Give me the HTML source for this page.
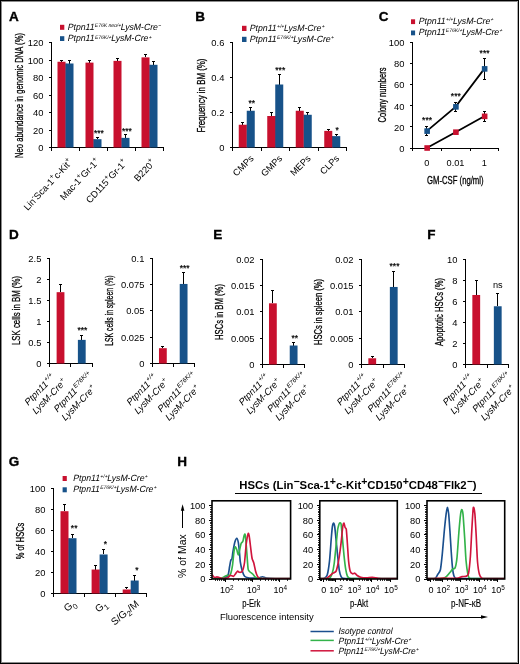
<!DOCTYPE html>
<html><head><meta charset="utf-8"><style>
html,body{margin:0;padding:0;background:#fff;}
svg{display:block;font-family:"Liberation Sans", sans-serif;will-change:transform;}
</style></head><body>
<svg width="520" height="664" viewBox="0 0 520 664">
<rect x="0" y="0" width="520" height="664" fill="#fff"/>
<text x="9.00" y="20.90" font-size="13.5" font-weight="bold" stroke="#000" stroke-width="0.35">A</text>
<rect x="60.00" y="24.80" width="4.30" height="5.00" fill="#c8102e"/>
<rect x="60.00" y="36.20" width="4.30" height="4.80" fill="#175289"/>
<text x="67.30" y="29.70" font-size="9.0" text-anchor="start" transform="translate(67.30 29.70) rotate(0) skewX(-12) translate(-67.30 -29.70)" textLength="93.00" lengthAdjust="spacingAndGlyphs"><tspan dy="0.00" font-size="9.00">Ptpn11</tspan><tspan dy="-2.70" font-size="5.20">E76K neo/+</tspan><tspan dy="2.70" font-size="9.00">LysM-Cre</tspan><tspan dy="-2.70" font-size="5.20">−</tspan></text>
<text x="67.30" y="41.30" font-size="9.0" text-anchor="start" transform="translate(67.30 41.30) rotate(0) skewX(-12) translate(-67.30 -41.30)" textLength="83.50" lengthAdjust="spacingAndGlyphs"><tspan dy="0.00" font-size="9.00">Ptpn11</tspan><tspan dy="-2.70" font-size="5.20">E76K/+</tspan><tspan dy="2.70" font-size="9.00">LysM-Cre</tspan><tspan dy="-2.70" font-size="5.20">+</tspan></text>
<line x1="51.50" y1="42.50" x2="51.50" y2="147.50" stroke="#000" stroke-width="1" shape-rendering="crispEdges"/>
<line x1="48.50" y1="147.50" x2="51.50" y2="147.50" stroke="#000" stroke-width="1" shape-rendering="crispEdges"/>
<text x="43.40" y="151.20" font-size="9.4" text-anchor="end">0</text>
<line x1="48.50" y1="130.00" x2="51.50" y2="130.00" stroke="#000" stroke-width="1" shape-rendering="crispEdges"/>
<text x="43.40" y="133.70" font-size="9.4" text-anchor="end">20</text>
<line x1="48.50" y1="112.50" x2="51.50" y2="112.50" stroke="#000" stroke-width="1" shape-rendering="crispEdges"/>
<text x="43.40" y="116.20" font-size="9.4" text-anchor="end">40</text>
<line x1="48.50" y1="95.00" x2="51.50" y2="95.00" stroke="#000" stroke-width="1" shape-rendering="crispEdges"/>
<text x="43.40" y="98.70" font-size="9.4" text-anchor="end">60</text>
<line x1="48.50" y1="77.50" x2="51.50" y2="77.50" stroke="#000" stroke-width="1" shape-rendering="crispEdges"/>
<text x="43.40" y="81.20" font-size="9.4" text-anchor="end">80</text>
<line x1="48.50" y1="60.00" x2="51.50" y2="60.00" stroke="#000" stroke-width="1" shape-rendering="crispEdges"/>
<text x="43.40" y="63.70" font-size="9.4" text-anchor="end">100</text>
<line x1="48.50" y1="42.50" x2="51.50" y2="42.50" stroke="#000" stroke-width="1" shape-rendering="crispEdges"/>
<text x="43.40" y="46.20" font-size="9.4" text-anchor="end">120</text>
<line x1="51.00" y1="147.50" x2="164.00" y2="147.50" stroke="#000" stroke-width="1" shape-rendering="crispEdges"/>
<line x1="51.50" y1="147.50" x2="51.50" y2="150.50" stroke="#000" stroke-width="1" shape-rendering="crispEdges"/>
<line x1="79.50" y1="147.50" x2="79.50" y2="150.50" stroke="#000" stroke-width="1" shape-rendering="crispEdges"/>
<line x1="107.50" y1="147.50" x2="107.50" y2="150.50" stroke="#000" stroke-width="1" shape-rendering="crispEdges"/>
<line x1="135.50" y1="147.50" x2="135.50" y2="150.50" stroke="#000" stroke-width="1" shape-rendering="crispEdges"/>
<line x1="163.50" y1="147.50" x2="163.50" y2="150.50" stroke="#000" stroke-width="1" shape-rendering="crispEdges"/>
<line x1="61.50" y1="61.75" x2="61.50" y2="60.44" stroke="#000" stroke-width="1" shape-rendering="crispEdges"/>
<line x1="60.00" y1="60.44" x2="63.00" y2="60.44" stroke="#000" stroke-width="1" shape-rendering="crispEdges"/>
<line x1="69.50" y1="63.50" x2="69.50" y2="60.88" stroke="#000" stroke-width="1" shape-rendering="crispEdges"/>
<line x1="68.00" y1="60.88" x2="71.00" y2="60.88" stroke="#000" stroke-width="1" shape-rendering="crispEdges"/>
<rect x="57.50" y="61.75" width="8.00" height="85.75" fill="#c8102e"/>
<rect x="65.30" y="63.50" width="1.20" height="84.00" fill="#c8102e"/>
<rect x="65.50" y="63.50" width="8.00" height="84.00" fill="#175289"/>
<line x1="89.50" y1="62.62" x2="89.50" y2="60.17" stroke="#000" stroke-width="1" shape-rendering="crispEdges"/>
<line x1="88.00" y1="60.17" x2="91.00" y2="60.17" stroke="#000" stroke-width="1" shape-rendering="crispEdges"/>
<line x1="97.50" y1="139.19" x2="97.50" y2="137.44" stroke="#000" stroke-width="1" shape-rendering="crispEdges"/>
<line x1="96.00" y1="137.44" x2="99.00" y2="137.44" stroke="#000" stroke-width="1" shape-rendering="crispEdges"/>
<rect x="85.50" y="62.62" width="8.00" height="84.88" fill="#c8102e"/>
<rect x="93.30" y="139.19" width="1.20" height="8.31" fill="#c8102e"/>
<rect x="93.50" y="139.19" width="8.00" height="8.31" fill="#175289"/>
<line x1="117.50" y1="60.88" x2="117.50" y2="58.08" stroke="#000" stroke-width="1" shape-rendering="crispEdges"/>
<line x1="116.00" y1="58.08" x2="119.00" y2="58.08" stroke="#000" stroke-width="1" shape-rendering="crispEdges"/>
<line x1="125.50" y1="137.88" x2="125.50" y2="134.81" stroke="#000" stroke-width="1" shape-rendering="crispEdges"/>
<line x1="124.00" y1="134.81" x2="127.00" y2="134.81" stroke="#000" stroke-width="1" shape-rendering="crispEdges"/>
<rect x="113.50" y="60.88" width="8.00" height="86.62" fill="#c8102e"/>
<rect x="121.30" y="137.88" width="1.20" height="9.62" fill="#c8102e"/>
<rect x="121.50" y="137.88" width="8.00" height="9.62" fill="#175289"/>
<line x1="145.50" y1="57.38" x2="145.50" y2="54.49" stroke="#000" stroke-width="1" shape-rendering="crispEdges"/>
<line x1="144.00" y1="54.49" x2="147.00" y2="54.49" stroke="#000" stroke-width="1" shape-rendering="crispEdges"/>
<line x1="153.50" y1="64.81" x2="153.50" y2="61.14" stroke="#000" stroke-width="1" shape-rendering="crispEdges"/>
<line x1="152.00" y1="61.14" x2="155.00" y2="61.14" stroke="#000" stroke-width="1" shape-rendering="crispEdges"/>
<rect x="141.50" y="57.38" width="8.00" height="90.12" fill="#c8102e"/>
<rect x="149.30" y="64.81" width="1.20" height="82.69" fill="#c8102e"/>
<rect x="149.50" y="64.81" width="8.00" height="82.69" fill="#175289"/>
<text x="98.90" y="135.60" font-size="8.5" text-anchor="middle" stroke="#000" stroke-width="0.2">***</text>
<text x="126.90" y="134.10" font-size="8.5" text-anchor="middle" stroke="#000" stroke-width="0.2">***</text>
<text x="22.50" y="95.50" font-size="11.2" text-anchor="middle" stroke="#000" stroke-width="0.3" transform="rotate(-90 22.50 95.50)" textLength="125.00" lengthAdjust="spacingAndGlyphs">Neo abundance in genomic DNA (%)</text>
<text x="73.10" y="162.40" font-size="9.4" text-anchor="end" transform="rotate(-47 73.10 162.40)"><tspan dy="0.00" font-size="9.40">Lin</tspan><tspan dy="-4.00" font-size="7.20">-</tspan><tspan dy="4.00" font-size="9.40">Sca-1</tspan><tspan dy="-4.00" font-size="7.20">+</tspan><tspan dy="4.00" font-size="9.40">c-Kit</tspan><tspan dy="-4.00" font-size="7.20">+</tspan></text>
<text x="100.20" y="161.80" font-size="9.4" text-anchor="end" transform="rotate(-47 100.20 161.80)"><tspan dy="0.00" font-size="9.40">Mac-1</tspan><tspan dy="-4.00" font-size="7.20">+</tspan><tspan dy="4.00" font-size="9.40">Gr-1</tspan><tspan dy="-4.00" font-size="7.20">+</tspan></text>
<text x="127.90" y="163.00" font-size="9.4" text-anchor="end" transform="rotate(-47 127.90 163.00)"><tspan dy="0.00" font-size="9.40">CD115</tspan><tspan dy="-4.00" font-size="7.20">+</tspan><tspan dy="4.00" font-size="9.40">Gr-1</tspan><tspan dy="-4.00" font-size="7.20">+</tspan></text>
<text x="155.90" y="163.00" font-size="9.4" text-anchor="end" transform="rotate(-47 155.90 163.00)"><tspan dy="0.00" font-size="9.40">B220</tspan><tspan dy="-4.00" font-size="7.20">+</tspan></text>
<text x="195.30" y="20.90" font-size="13.5" font-weight="bold" stroke="#000" stroke-width="0.35">B</text>
<rect x="242.00" y="25.80" width="4.50" height="5.20" fill="#c8102e"/>
<rect x="242.00" y="36.80" width="4.50" height="5.20" fill="#175289"/>
<text x="249.30" y="30.60" font-size="9.0" text-anchor="start" transform="translate(249.30 30.60) rotate(0) skewX(-12) translate(-249.30 -30.60)" textLength="74.50" lengthAdjust="spacingAndGlyphs"><tspan dy="0.00" font-size="9.00">Ptpn11</tspan><tspan dy="-2.70" font-size="5.20">+/+</tspan><tspan dy="2.70" font-size="9.00">LysM-Cre</tspan><tspan dy="-2.70" font-size="5.20">+</tspan></text>
<text x="249.30" y="42.00" font-size="9.0" text-anchor="start" transform="translate(249.30 42.00) rotate(0) skewX(-12) translate(-249.30 -42.00)" textLength="83.80" lengthAdjust="spacingAndGlyphs"><tspan dy="0.00" font-size="9.00">Ptpn11</tspan><tspan dy="-2.70" font-size="5.20">E76K/+</tspan><tspan dy="2.70" font-size="9.00">LysM-Cre</tspan><tspan dy="-2.70" font-size="5.20">+</tspan></text>
<line x1="232.50" y1="42.50" x2="232.50" y2="147.50" stroke="#000" stroke-width="1" shape-rendering="crispEdges"/>
<line x1="229.50" y1="147.50" x2="232.50" y2="147.50" stroke="#000" stroke-width="1" shape-rendering="crispEdges"/>
<text x="224.40" y="151.20" font-size="9.4" text-anchor="end">0</text>
<line x1="229.50" y1="112.50" x2="232.50" y2="112.50" stroke="#000" stroke-width="1" shape-rendering="crispEdges"/>
<text x="224.40" y="116.20" font-size="9.4" text-anchor="end">0.2</text>
<line x1="229.50" y1="77.50" x2="232.50" y2="77.50" stroke="#000" stroke-width="1" shape-rendering="crispEdges"/>
<text x="224.40" y="81.20" font-size="9.4" text-anchor="end">0.4</text>
<line x1="229.50" y1="42.50" x2="232.50" y2="42.50" stroke="#000" stroke-width="1" shape-rendering="crispEdges"/>
<text x="224.40" y="46.20" font-size="9.4" text-anchor="end">0.6</text>
<line x1="232.00" y1="147.50" x2="347.00" y2="147.50" stroke="#000" stroke-width="1" shape-rendering="crispEdges"/>
<line x1="232.50" y1="147.50" x2="232.50" y2="150.50" stroke="#000" stroke-width="1" shape-rendering="crispEdges"/>
<line x1="261.00" y1="147.50" x2="261.00" y2="150.50" stroke="#000" stroke-width="1" shape-rendering="crispEdges"/>
<line x1="289.50" y1="147.50" x2="289.50" y2="150.50" stroke="#000" stroke-width="1" shape-rendering="crispEdges"/>
<line x1="318.00" y1="147.50" x2="318.00" y2="150.50" stroke="#000" stroke-width="1" shape-rendering="crispEdges"/>
<line x1="346.50" y1="147.50" x2="346.50" y2="150.50" stroke="#000" stroke-width="1" shape-rendering="crispEdges"/>
<line x1="242.75" y1="124.75" x2="242.75" y2="122.12" stroke="#000" stroke-width="1" shape-rendering="crispEdges"/>
<line x1="241.25" y1="122.12" x2="244.25" y2="122.12" stroke="#000" stroke-width="1" shape-rendering="crispEdges"/>
<line x1="250.75" y1="110.75" x2="250.75" y2="107.25" stroke="#000" stroke-width="1" shape-rendering="crispEdges"/>
<line x1="249.25" y1="107.25" x2="252.25" y2="107.25" stroke="#000" stroke-width="1" shape-rendering="crispEdges"/>
<rect x="238.75" y="124.75" width="8.00" height="22.75" fill="#c8102e"/>
<rect x="246.55" y="124.75" width="1.20" height="22.75" fill="#c8102e"/>
<rect x="246.75" y="110.75" width="8.00" height="36.75" fill="#175289"/>
<line x1="271.25" y1="116.00" x2="271.25" y2="112.50" stroke="#000" stroke-width="1" shape-rendering="crispEdges"/>
<line x1="269.75" y1="112.50" x2="272.75" y2="112.50" stroke="#000" stroke-width="1" shape-rendering="crispEdges"/>
<line x1="279.25" y1="84.50" x2="279.25" y2="74.00" stroke="#000" stroke-width="1" shape-rendering="crispEdges"/>
<line x1="277.75" y1="74.00" x2="280.75" y2="74.00" stroke="#000" stroke-width="1" shape-rendering="crispEdges"/>
<rect x="267.25" y="116.00" width="8.00" height="31.50" fill="#c8102e"/>
<rect x="275.05" y="116.00" width="1.20" height="31.50" fill="#c8102e"/>
<rect x="275.25" y="84.50" width="8.00" height="63.00" fill="#175289"/>
<line x1="299.75" y1="110.75" x2="299.75" y2="107.25" stroke="#000" stroke-width="1" shape-rendering="crispEdges"/>
<line x1="298.25" y1="107.25" x2="301.25" y2="107.25" stroke="#000" stroke-width="1" shape-rendering="crispEdges"/>
<line x1="307.75" y1="114.78" x2="307.75" y2="112.15" stroke="#000" stroke-width="1" shape-rendering="crispEdges"/>
<line x1="306.25" y1="112.15" x2="309.25" y2="112.15" stroke="#000" stroke-width="1" shape-rendering="crispEdges"/>
<rect x="295.75" y="110.75" width="8.00" height="36.75" fill="#c8102e"/>
<rect x="303.55" y="114.78" width="1.20" height="32.72" fill="#c8102e"/>
<rect x="303.75" y="114.78" width="8.00" height="32.72" fill="#175289"/>
<line x1="328.25" y1="130.88" x2="328.25" y2="129.12" stroke="#000" stroke-width="1" shape-rendering="crispEdges"/>
<line x1="326.75" y1="129.12" x2="329.75" y2="129.12" stroke="#000" stroke-width="1" shape-rendering="crispEdges"/>
<line x1="336.25" y1="136.12" x2="336.25" y2="134.38" stroke="#000" stroke-width="1" shape-rendering="crispEdges"/>
<line x1="334.75" y1="134.38" x2="337.75" y2="134.38" stroke="#000" stroke-width="1" shape-rendering="crispEdges"/>
<rect x="324.25" y="130.88" width="8.00" height="16.62" fill="#c8102e"/>
<rect x="332.05" y="136.12" width="1.20" height="11.38" fill="#c8102e"/>
<rect x="332.25" y="136.12" width="8.00" height="11.38" fill="#175289"/>
<text x="251.75" y="105.60" font-size="8.5" text-anchor="middle" stroke="#000" stroke-width="0.2">**</text>
<text x="280.25" y="72.60" font-size="8.5" text-anchor="middle" stroke="#000" stroke-width="0.2">***</text>
<text x="337.25" y="132.80" font-size="8.5" text-anchor="middle" stroke="#000" stroke-width="0.2">*</text>
<text x="205.30" y="95.60" font-size="11.2" text-anchor="middle" stroke="#000" stroke-width="0.3" transform="rotate(-90 205.30 95.60)" textLength="74.00" lengthAdjust="spacingAndGlyphs">Frequency in BM (%)</text>
<text x="254.25" y="159.00" font-size="9.2" text-anchor="end" transform="rotate(-45 254.25 159.00)">CMPs</text>
<text x="282.75" y="159.00" font-size="9.2" text-anchor="end" transform="rotate(-45 282.75 159.00)">GMPs</text>
<text x="311.25" y="159.00" font-size="9.2" text-anchor="end" transform="rotate(-45 311.25 159.00)">MEPs</text>
<text x="339.75" y="159.00" font-size="9.2" text-anchor="end" transform="rotate(-45 339.75 159.00)">CLPs</text>
<text x="378.70" y="20.90" font-size="13.5" font-weight="bold" stroke="#000" stroke-width="0.35">C</text>
<rect x="411.00" y="19.30" width="4.10" height="4.80" fill="#c8102e"/>
<rect x="411.00" y="30.50" width="4.10" height="4.80" fill="#175289"/>
<text x="418.30" y="23.80" font-size="9.0" text-anchor="start" transform="translate(418.30 23.80) rotate(0) skewX(-12) translate(-418.30 -23.80)" textLength="74.40" lengthAdjust="spacingAndGlyphs"><tspan dy="0.00" font-size="9.00">Ptpn11</tspan><tspan dy="-2.70" font-size="5.20">+/+</tspan><tspan dy="2.70" font-size="9.00">LysM-Cre</tspan><tspan dy="-2.70" font-size="5.20">+</tspan></text>
<text x="418.30" y="35.20" font-size="9.0" text-anchor="start" transform="translate(418.30 35.20) rotate(0) skewX(-12) translate(-418.30 -35.20)" textLength="83.20" lengthAdjust="spacingAndGlyphs"><tspan dy="0.00" font-size="9.00">Ptpn11</tspan><tspan dy="-2.70" font-size="5.20">E76K/+</tspan><tspan dy="2.70" font-size="9.00">LysM-Cre</tspan><tspan dy="-2.70" font-size="5.20">+</tspan></text>
<line x1="412.50" y1="42.50" x2="412.50" y2="148.00" stroke="#000" stroke-width="1" shape-rendering="crispEdges"/>
<line x1="409.50" y1="148.00" x2="412.50" y2="148.00" stroke="#000" stroke-width="1" shape-rendering="crispEdges"/>
<text x="404.40" y="151.70" font-size="9.4" text-anchor="end">0</text>
<line x1="409.50" y1="126.90" x2="412.50" y2="126.90" stroke="#000" stroke-width="1" shape-rendering="crispEdges"/>
<text x="404.40" y="130.60" font-size="9.4" text-anchor="end">20</text>
<line x1="409.50" y1="105.80" x2="412.50" y2="105.80" stroke="#000" stroke-width="1" shape-rendering="crispEdges"/>
<text x="404.40" y="109.50" font-size="9.4" text-anchor="end">40</text>
<line x1="409.50" y1="84.70" x2="412.50" y2="84.70" stroke="#000" stroke-width="1" shape-rendering="crispEdges"/>
<text x="404.40" y="88.40" font-size="9.4" text-anchor="end">60</text>
<line x1="409.50" y1="63.60" x2="412.50" y2="63.60" stroke="#000" stroke-width="1" shape-rendering="crispEdges"/>
<text x="404.40" y="67.30" font-size="9.4" text-anchor="end">80</text>
<line x1="409.50" y1="42.50" x2="412.50" y2="42.50" stroke="#000" stroke-width="1" shape-rendering="crispEdges"/>
<text x="404.40" y="46.20" font-size="9.4" text-anchor="end">100</text>
<line x1="412.00" y1="148.00" x2="499.25" y2="148.00" stroke="#000" stroke-width="1" shape-rendering="crispEdges"/>
<line x1="412.50" y1="148.00" x2="412.50" y2="151.00" stroke="#000" stroke-width="1" shape-rendering="crispEdges"/>
<line x1="441.25" y1="148.00" x2="441.25" y2="151.00" stroke="#000" stroke-width="1" shape-rendering="crispEdges"/>
<line x1="470.00" y1="148.00" x2="470.00" y2="151.00" stroke="#000" stroke-width="1" shape-rendering="crispEdges"/>
<line x1="498.75" y1="148.00" x2="498.75" y2="151.00" stroke="#000" stroke-width="1" shape-rendering="crispEdges"/>
<line x1="426.75" y1="135.87" x2="426.75" y2="126.37" stroke="#000" stroke-width="1" shape-rendering="crispEdges"/>
<line x1="425.25" y1="126.37" x2="428.25" y2="126.37" stroke="#000" stroke-width="1" shape-rendering="crispEdges"/>
<line x1="425.25" y1="135.87" x2="428.25" y2="135.87" stroke="#000" stroke-width="1" shape-rendering="crispEdges"/>
<line x1="455.50" y1="133.76" x2="455.50" y2="130.59" stroke="#000" stroke-width="1" shape-rendering="crispEdges"/>
<line x1="454.00" y1="130.59" x2="457.00" y2="130.59" stroke="#000" stroke-width="1" shape-rendering="crispEdges"/>
<line x1="454.00" y1="133.76" x2="457.00" y2="133.76" stroke="#000" stroke-width="1" shape-rendering="crispEdges"/>
<line x1="455.50" y1="111.60" x2="455.50" y2="102.11" stroke="#000" stroke-width="1" shape-rendering="crispEdges"/>
<line x1="454.00" y1="102.11" x2="457.00" y2="102.11" stroke="#000" stroke-width="1" shape-rendering="crispEdges"/>
<line x1="454.00" y1="111.60" x2="457.00" y2="111.60" stroke="#000" stroke-width="1" shape-rendering="crispEdges"/>
<line x1="484.25" y1="121.10" x2="484.25" y2="111.60" stroke="#000" stroke-width="1" shape-rendering="crispEdges"/>
<line x1="482.75" y1="111.60" x2="485.75" y2="111.60" stroke="#000" stroke-width="1" shape-rendering="crispEdges"/>
<line x1="482.75" y1="121.10" x2="485.75" y2="121.10" stroke="#000" stroke-width="1" shape-rendering="crispEdges"/>
<line x1="484.25" y1="79.42" x2="484.25" y2="58.33" stroke="#000" stroke-width="1" shape-rendering="crispEdges"/>
<line x1="482.75" y1="58.33" x2="485.75" y2="58.33" stroke="#000" stroke-width="1" shape-rendering="crispEdges"/>
<line x1="482.75" y1="79.42" x2="485.75" y2="79.42" stroke="#000" stroke-width="1" shape-rendering="crispEdges"/>
<polyline points="426.75,148.00 455.50,132.18 484.25,116.35" fill="none" stroke="#000" stroke-width="1.75"/>
<polyline points="426.75,131.12 455.50,106.86 484.25,68.88" fill="none" stroke="#000" stroke-width="1.75"/>
<rect x="424.35" y="145.20" width="5.60" height="5.60" fill="#c8102e"/>
<rect x="424.35" y="128.32" width="5.60" height="5.60" fill="#175289"/>
<rect x="453.10" y="129.38" width="5.60" height="5.60" fill="#c8102e"/>
<rect x="453.10" y="104.06" width="5.60" height="5.60" fill="#175289"/>
<rect x="481.85" y="113.55" width="5.60" height="5.60" fill="#c8102e"/>
<rect x="481.85" y="66.08" width="5.60" height="5.60" fill="#175289"/>
<text x="427.05" y="123.30" font-size="8.5" text-anchor="middle" stroke="#000" stroke-width="0.2">***</text>
<text x="455.80" y="98.80" font-size="8.5" text-anchor="middle" stroke="#000" stroke-width="0.2">***</text>
<text x="484.55" y="56.10" font-size="8.5" text-anchor="middle" stroke="#000" stroke-width="0.2">***</text>
<text x="385.50" y="95.00" font-size="11.2" text-anchor="middle" stroke="#000" stroke-width="0.3" transform="rotate(-90 385.50 95.00)" textLength="55.00" lengthAdjust="spacingAndGlyphs">Colony numbers</text>
<text x="426.75" y="166.00" font-size="9.2" text-anchor="middle">0</text>
<text x="455.50" y="166.00" font-size="9.2" text-anchor="middle">0.01</text>
<text x="484.25" y="166.00" font-size="9.2" text-anchor="middle">1</text>
<text x="455.30" y="184.00" font-size="10.9" text-anchor="middle" stroke="#000" stroke-width="0.3" textLength="56.50" lengthAdjust="spacingAndGlyphs">GM-CSF (ng/ml)</text>
<text x="9.10" y="239.40" font-size="13.5" font-weight="bold" stroke="#000" stroke-width="0.35">D</text>
<line x1="49.50" y1="258.00" x2="49.50" y2="363.50" stroke="#000" stroke-width="1" shape-rendering="crispEdges"/>
<line x1="46.50" y1="363.50" x2="49.50" y2="363.50" stroke="#000" stroke-width="1" shape-rendering="crispEdges"/>
<text x="41.40" y="367.20" font-size="9.4" text-anchor="end">0</text>
<line x1="46.50" y1="342.40" x2="49.50" y2="342.40" stroke="#000" stroke-width="1" shape-rendering="crispEdges"/>
<text x="41.40" y="346.10" font-size="9.4" text-anchor="end">0.5</text>
<line x1="46.50" y1="321.30" x2="49.50" y2="321.30" stroke="#000" stroke-width="1" shape-rendering="crispEdges"/>
<text x="41.40" y="325.00" font-size="9.4" text-anchor="end">1</text>
<line x1="46.50" y1="300.20" x2="49.50" y2="300.20" stroke="#000" stroke-width="1" shape-rendering="crispEdges"/>
<text x="41.40" y="303.90" font-size="9.4" text-anchor="end">1.5</text>
<line x1="46.50" y1="279.10" x2="49.50" y2="279.10" stroke="#000" stroke-width="1" shape-rendering="crispEdges"/>
<text x="41.40" y="282.80" font-size="9.4" text-anchor="end">2</text>
<line x1="46.50" y1="258.00" x2="49.50" y2="258.00" stroke="#000" stroke-width="1" shape-rendering="crispEdges"/>
<text x="41.40" y="261.70" font-size="9.4" text-anchor="end">2.5</text>
<line x1="49.00" y1="363.50" x2="92.50" y2="363.50" stroke="#000" stroke-width="1" shape-rendering="crispEdges"/>
<line x1="49.50" y1="363.50" x2="49.50" y2="366.50" stroke="#000" stroke-width="1" shape-rendering="crispEdges"/>
<line x1="70.75" y1="363.50" x2="70.75" y2="366.50" stroke="#000" stroke-width="1" shape-rendering="crispEdges"/>
<line x1="92.00" y1="363.50" x2="92.00" y2="366.50" stroke="#000" stroke-width="1" shape-rendering="crispEdges"/>
<line x1="60.52" y1="292.18" x2="60.52" y2="284.59" stroke="#000" stroke-width="1" shape-rendering="crispEdges"/>
<line x1="59.02" y1="284.59" x2="62.02" y2="284.59" stroke="#000" stroke-width="1" shape-rendering="crispEdges"/>
<line x1="81.78" y1="339.87" x2="81.78" y2="335.65" stroke="#000" stroke-width="1" shape-rendering="crispEdges"/>
<line x1="80.28" y1="335.65" x2="83.28" y2="335.65" stroke="#000" stroke-width="1" shape-rendering="crispEdges"/>
<rect x="56.62" y="292.18" width="7.80" height="71.32" fill="#c8102e"/>
<rect x="77.88" y="339.87" width="7.80" height="23.63" fill="#175289"/>
<text x="82.40" y="332.80" font-size="8.5" text-anchor="middle" stroke="#000" stroke-width="0.2">***</text>
<text x="20.20" y="310.50" font-size="11.2" text-anchor="middle" stroke="#000" stroke-width="0.3" transform="rotate(-90 20.20 310.50)" textLength="69.00" lengthAdjust="spacingAndGlyphs">LSK cells in BM (%)</text>
<text x="28.10" y="406.20" font-size="9.4" text-anchor="start" transform="translate(28.10 406.20) rotate(-46) skewX(-12) translate(-28.10 -406.20)"><tspan dy="0.00" font-size="9.40">Ptpn11</tspan><tspan dy="-3.80" font-size="6.40">+/+</tspan></text>
<text x="35.70" y="414.90" font-size="9.4" text-anchor="start" transform="translate(35.70 414.90) rotate(-46) skewX(-12) translate(-35.70 -414.90)"><tspan dy="0.00" font-size="9.40">LysM-Cre</tspan><tspan dy="-3.80" font-size="6.40">+</tspan></text>
<text x="57.30" y="412.90" font-size="9.4" text-anchor="start" transform="translate(57.30 412.90) rotate(-46) skewX(-12) translate(-57.30 -412.90)"><tspan dy="0.00" font-size="9.40">Ptpn11</tspan><tspan dy="-3.80" font-size="6.40">E76K/+</tspan></text>
<text x="65.00" y="421.60" font-size="9.4" text-anchor="start" transform="translate(65.00 421.60) rotate(-46) skewX(-12) translate(-65.00 -421.60)"><tspan dy="0.00" font-size="9.40">LysM-Cre</tspan><tspan dy="-3.80" font-size="6.40">+</tspan></text>
<line x1="152.50" y1="258.00" x2="152.50" y2="363.50" stroke="#000" stroke-width="1" shape-rendering="crispEdges"/>
<line x1="149.50" y1="363.50" x2="152.50" y2="363.50" stroke="#000" stroke-width="1" shape-rendering="crispEdges"/>
<text x="144.40" y="367.20" font-size="9.4" text-anchor="end">0</text>
<line x1="149.50" y1="337.12" x2="152.50" y2="337.12" stroke="#000" stroke-width="1" shape-rendering="crispEdges"/>
<text x="144.40" y="340.82" font-size="9.4" text-anchor="end">0.025</text>
<line x1="149.50" y1="310.75" x2="152.50" y2="310.75" stroke="#000" stroke-width="1" shape-rendering="crispEdges"/>
<text x="144.40" y="314.45" font-size="9.4" text-anchor="end">0.05</text>
<line x1="149.50" y1="284.38" x2="152.50" y2="284.38" stroke="#000" stroke-width="1" shape-rendering="crispEdges"/>
<text x="144.40" y="288.07" font-size="9.4" text-anchor="end">0.075</text>
<line x1="149.50" y1="258.00" x2="152.50" y2="258.00" stroke="#000" stroke-width="1" shape-rendering="crispEdges"/>
<text x="144.40" y="261.70" font-size="9.4" text-anchor="end">0.1</text>
<line x1="152.00" y1="363.50" x2="194.50" y2="363.50" stroke="#000" stroke-width="1" shape-rendering="crispEdges"/>
<line x1="152.50" y1="363.50" x2="152.50" y2="366.50" stroke="#000" stroke-width="1" shape-rendering="crispEdges"/>
<line x1="173.25" y1="363.50" x2="173.25" y2="366.50" stroke="#000" stroke-width="1" shape-rendering="crispEdges"/>
<line x1="194.00" y1="363.50" x2="194.00" y2="366.50" stroke="#000" stroke-width="1" shape-rendering="crispEdges"/>
<line x1="162.88" y1="348.20" x2="162.88" y2="346.09" stroke="#000" stroke-width="1" shape-rendering="crispEdges"/>
<line x1="161.38" y1="346.09" x2="164.38" y2="346.09" stroke="#000" stroke-width="1" shape-rendering="crispEdges"/>
<line x1="183.62" y1="283.95" x2="183.62" y2="272.35" stroke="#000" stroke-width="1" shape-rendering="crispEdges"/>
<line x1="182.12" y1="272.35" x2="185.12" y2="272.35" stroke="#000" stroke-width="1" shape-rendering="crispEdges"/>
<rect x="158.97" y="348.20" width="7.80" height="15.30" fill="#c8102e"/>
<rect x="179.72" y="283.95" width="7.80" height="79.55" fill="#175289"/>
<text x="184.70" y="271.00" font-size="8.5" text-anchor="middle" stroke="#000" stroke-width="0.2">***</text>
<text x="112.70" y="310.60" font-size="11.2" text-anchor="middle" stroke="#000" stroke-width="0.3" transform="rotate(-90 112.70 310.60)" textLength="70.40" lengthAdjust="spacingAndGlyphs">LSK cells in spleen (%)</text>
<text x="130.10" y="406.20" font-size="9.4" text-anchor="start" transform="translate(130.10 406.20) rotate(-46) skewX(-12) translate(-130.10 -406.20)"><tspan dy="0.00" font-size="9.40">Ptpn11</tspan><tspan dy="-3.80" font-size="6.40">+/+</tspan></text>
<text x="137.70" y="414.90" font-size="9.4" text-anchor="start" transform="translate(137.70 414.90) rotate(-46) skewX(-12) translate(-137.70 -414.90)"><tspan dy="0.00" font-size="9.40">LysM-Cre</tspan><tspan dy="-3.80" font-size="6.40">+</tspan></text>
<text x="161.10" y="412.90" font-size="9.4" text-anchor="start" transform="translate(161.10 412.90) rotate(-46) skewX(-12) translate(-161.10 -412.90)"><tspan dy="0.00" font-size="9.40">Ptpn11</tspan><tspan dy="-3.80" font-size="6.40">E76K/+</tspan></text>
<text x="168.80" y="421.60" font-size="9.4" text-anchor="start" transform="translate(168.80 421.60) rotate(-46) skewX(-12) translate(-168.80 -421.60)"><tspan dy="0.00" font-size="9.40">LysM-Cre</tspan><tspan dy="-3.80" font-size="6.40">+</tspan></text>
<text x="213.30" y="239.40" font-size="13.5" font-weight="bold" stroke="#000" stroke-width="0.35">E</text>
<line x1="262.50" y1="259.00" x2="262.50" y2="364.50" stroke="#000" stroke-width="1" shape-rendering="crispEdges"/>
<line x1="259.50" y1="364.50" x2="262.50" y2="364.50" stroke="#000" stroke-width="1" shape-rendering="crispEdges"/>
<text x="254.40" y="368.20" font-size="9.4" text-anchor="end">0</text>
<line x1="259.50" y1="338.12" x2="262.50" y2="338.12" stroke="#000" stroke-width="1" shape-rendering="crispEdges"/>
<text x="254.40" y="341.82" font-size="9.4" text-anchor="end">0.005</text>
<line x1="259.50" y1="311.75" x2="262.50" y2="311.75" stroke="#000" stroke-width="1" shape-rendering="crispEdges"/>
<text x="254.40" y="315.45" font-size="9.4" text-anchor="end">0.01</text>
<line x1="259.50" y1="285.38" x2="262.50" y2="285.38" stroke="#000" stroke-width="1" shape-rendering="crispEdges"/>
<text x="254.40" y="289.07" font-size="9.4" text-anchor="end">0.015</text>
<line x1="259.50" y1="259.00" x2="262.50" y2="259.00" stroke="#000" stroke-width="1" shape-rendering="crispEdges"/>
<text x="254.40" y="262.70" font-size="9.4" text-anchor="end">0.02</text>
<line x1="262.00" y1="364.50" x2="304.50" y2="364.50" stroke="#000" stroke-width="1" shape-rendering="crispEdges"/>
<line x1="262.50" y1="364.50" x2="262.50" y2="367.50" stroke="#000" stroke-width="1" shape-rendering="crispEdges"/>
<line x1="283.25" y1="364.50" x2="283.25" y2="367.50" stroke="#000" stroke-width="1" shape-rendering="crispEdges"/>
<line x1="304.00" y1="364.50" x2="304.00" y2="367.50" stroke="#000" stroke-width="1" shape-rendering="crispEdges"/>
<line x1="272.88" y1="303.31" x2="272.88" y2="290.65" stroke="#000" stroke-width="1" shape-rendering="crispEdges"/>
<line x1="271.38" y1="290.65" x2="274.38" y2="290.65" stroke="#000" stroke-width="1" shape-rendering="crispEdges"/>
<line x1="293.62" y1="345.51" x2="293.62" y2="342.34" stroke="#000" stroke-width="1" shape-rendering="crispEdges"/>
<line x1="292.12" y1="342.34" x2="295.12" y2="342.34" stroke="#000" stroke-width="1" shape-rendering="crispEdges"/>
<rect x="268.98" y="303.31" width="7.80" height="61.19" fill="#c8102e"/>
<rect x="289.73" y="345.51" width="7.80" height="18.99" fill="#175289"/>
<text x="294.70" y="341.00" font-size="8.5" text-anchor="middle" stroke="#000" stroke-width="0.2">**</text>
<text x="223.00" y="312.00" font-size="11.2" text-anchor="middle" stroke="#000" stroke-width="0.3" transform="rotate(-90 223.00 312.00)" textLength="56.00" lengthAdjust="spacingAndGlyphs">HSCs in BM (%)</text>
<text x="242.20" y="406.20" font-size="9.4" text-anchor="start" transform="translate(242.20 406.20) rotate(-46) skewX(-12) translate(-242.20 -406.20)"><tspan dy="0.00" font-size="9.40">Ptpn11</tspan><tspan dy="-3.80" font-size="6.40">+/+</tspan></text>
<text x="249.70" y="414.90" font-size="9.4" text-anchor="start" transform="translate(249.70 414.90) rotate(-46) skewX(-12) translate(-249.70 -414.90)"><tspan dy="0.00" font-size="9.40">LysM-Cre</tspan><tspan dy="-3.80" font-size="6.40">+</tspan></text>
<text x="270.70" y="412.90" font-size="9.4" text-anchor="start" transform="translate(270.70 412.90) rotate(-46) skewX(-12) translate(-270.70 -412.90)"><tspan dy="0.00" font-size="9.40">Ptpn11</tspan><tspan dy="-3.80" font-size="6.40">E76K/+</tspan></text>
<text x="278.70" y="421.60" font-size="9.4" text-anchor="start" transform="translate(278.70 421.60) rotate(-46) skewX(-12) translate(-278.70 -421.60)"><tspan dy="0.00" font-size="9.40">LysM-Cre</tspan><tspan dy="-3.80" font-size="6.40">+</tspan></text>
<line x1="361.50" y1="259.00" x2="361.50" y2="364.50" stroke="#000" stroke-width="1" shape-rendering="crispEdges"/>
<line x1="358.50" y1="364.50" x2="361.50" y2="364.50" stroke="#000" stroke-width="1" shape-rendering="crispEdges"/>
<text x="353.40" y="368.20" font-size="9.4" text-anchor="end">0</text>
<line x1="358.50" y1="338.12" x2="361.50" y2="338.12" stroke="#000" stroke-width="1" shape-rendering="crispEdges"/>
<text x="353.40" y="341.82" font-size="9.4" text-anchor="end">0.005</text>
<line x1="358.50" y1="311.75" x2="361.50" y2="311.75" stroke="#000" stroke-width="1" shape-rendering="crispEdges"/>
<text x="353.40" y="315.45" font-size="9.4" text-anchor="end">0.01</text>
<line x1="358.50" y1="285.38" x2="361.50" y2="285.38" stroke="#000" stroke-width="1" shape-rendering="crispEdges"/>
<text x="353.40" y="289.07" font-size="9.4" text-anchor="end">0.015</text>
<line x1="358.50" y1="259.00" x2="361.50" y2="259.00" stroke="#000" stroke-width="1" shape-rendering="crispEdges"/>
<text x="353.40" y="262.70" font-size="9.4" text-anchor="end">0.02</text>
<line x1="361.00" y1="364.50" x2="405.00" y2="364.50" stroke="#000" stroke-width="1" shape-rendering="crispEdges"/>
<line x1="361.50" y1="364.50" x2="361.50" y2="367.50" stroke="#000" stroke-width="1" shape-rendering="crispEdges"/>
<line x1="383.00" y1="364.50" x2="383.00" y2="367.50" stroke="#000" stroke-width="1" shape-rendering="crispEdges"/>
<line x1="404.50" y1="364.50" x2="404.50" y2="367.50" stroke="#000" stroke-width="1" shape-rendering="crispEdges"/>
<line x1="372.25" y1="358.28" x2="372.25" y2="356.69" stroke="#000" stroke-width="1" shape-rendering="crispEdges"/>
<line x1="370.75" y1="356.69" x2="373.75" y2="356.69" stroke="#000" stroke-width="1" shape-rendering="crispEdges"/>
<line x1="393.75" y1="286.96" x2="393.75" y2="271.13" stroke="#000" stroke-width="1" shape-rendering="crispEdges"/>
<line x1="392.25" y1="271.13" x2="395.25" y2="271.13" stroke="#000" stroke-width="1" shape-rendering="crispEdges"/>
<rect x="368.35" y="358.28" width="7.80" height="6.22" fill="#c8102e"/>
<rect x="389.85" y="286.96" width="7.80" height="77.54" fill="#175289"/>
<text x="394.50" y="269.00" font-size="8.5" text-anchor="middle" stroke="#000" stroke-width="0.2">***</text>
<text x="321.60" y="312.00" font-size="11.2" text-anchor="middle" stroke="#000" stroke-width="0.3" transform="rotate(-90 321.60 312.00)" textLength="66.00" lengthAdjust="spacingAndGlyphs">HSCs in spleen (%)</text>
<text x="340.20" y="406.20" font-size="9.4" text-anchor="start" transform="translate(340.20 406.20) rotate(-46) skewX(-12) translate(-340.20 -406.20)"><tspan dy="0.00" font-size="9.40">Ptpn11</tspan><tspan dy="-3.80" font-size="6.40">+/+</tspan></text>
<text x="347.70" y="414.90" font-size="9.4" text-anchor="start" transform="translate(347.70 414.90) rotate(-46) skewX(-12) translate(-347.70 -414.90)"><tspan dy="0.00" font-size="9.40">LysM-Cre</tspan><tspan dy="-3.80" font-size="6.40">+</tspan></text>
<text x="371.00" y="412.90" font-size="9.4" text-anchor="start" transform="translate(371.00 412.90) rotate(-46) skewX(-12) translate(-371.00 -412.90)"><tspan dy="0.00" font-size="9.40">Ptpn11</tspan><tspan dy="-3.80" font-size="6.40">E76K/+</tspan></text>
<text x="379.00" y="421.60" font-size="9.4" text-anchor="start" transform="translate(379.00 421.60) rotate(-46) skewX(-12) translate(-379.00 -421.60)"><tspan dy="0.00" font-size="9.40">LysM-Cre</tspan><tspan dy="-3.80" font-size="6.40">+</tspan></text>
<text x="427.20" y="239.40" font-size="13.5" font-weight="bold" stroke="#000" stroke-width="0.35">F</text>
<line x1="465.50" y1="259.00" x2="465.50" y2="364.50" stroke="#000" stroke-width="1" shape-rendering="crispEdges"/>
<line x1="462.50" y1="364.50" x2="465.50" y2="364.50" stroke="#000" stroke-width="1" shape-rendering="crispEdges"/>
<text x="457.40" y="368.20" font-size="9.4" text-anchor="end">0</text>
<line x1="462.50" y1="343.40" x2="465.50" y2="343.40" stroke="#000" stroke-width="1" shape-rendering="crispEdges"/>
<text x="457.40" y="347.10" font-size="9.4" text-anchor="end">2</text>
<line x1="462.50" y1="322.30" x2="465.50" y2="322.30" stroke="#000" stroke-width="1" shape-rendering="crispEdges"/>
<text x="457.40" y="326.00" font-size="9.4" text-anchor="end">4</text>
<line x1="462.50" y1="301.20" x2="465.50" y2="301.20" stroke="#000" stroke-width="1" shape-rendering="crispEdges"/>
<text x="457.40" y="304.90" font-size="9.4" text-anchor="end">6</text>
<line x1="462.50" y1="280.10" x2="465.50" y2="280.10" stroke="#000" stroke-width="1" shape-rendering="crispEdges"/>
<text x="457.40" y="283.80" font-size="9.4" text-anchor="end">8</text>
<line x1="462.50" y1="259.00" x2="465.50" y2="259.00" stroke="#000" stroke-width="1" shape-rendering="crispEdges"/>
<text x="457.40" y="262.70" font-size="9.4" text-anchor="end">10</text>
<line x1="465.00" y1="364.50" x2="509.00" y2="364.50" stroke="#000" stroke-width="1" shape-rendering="crispEdges"/>
<line x1="465.50" y1="364.50" x2="465.50" y2="367.50" stroke="#000" stroke-width="1" shape-rendering="crispEdges"/>
<line x1="487.00" y1="364.50" x2="487.00" y2="367.50" stroke="#000" stroke-width="1" shape-rendering="crispEdges"/>
<line x1="508.50" y1="364.50" x2="508.50" y2="367.50" stroke="#000" stroke-width="1" shape-rendering="crispEdges"/>
<line x1="476.25" y1="294.98" x2="476.25" y2="280.73" stroke="#000" stroke-width="1" shape-rendering="crispEdges"/>
<line x1="474.75" y1="280.73" x2="477.75" y2="280.73" stroke="#000" stroke-width="1" shape-rendering="crispEdges"/>
<line x1="497.75" y1="306.26" x2="497.75" y2="293.60" stroke="#000" stroke-width="1" shape-rendering="crispEdges"/>
<line x1="496.25" y1="293.60" x2="499.25" y2="293.60" stroke="#000" stroke-width="1" shape-rendering="crispEdges"/>
<rect x="472.35" y="294.98" width="7.80" height="69.52" fill="#c8102e"/>
<rect x="493.85" y="306.26" width="7.80" height="58.24" fill="#175289"/>
<text x="497.80" y="288.00" font-size="9.2" text-anchor="middle">ns</text>
<text x="442.80" y="312.00" font-size="11.2" text-anchor="middle" stroke="#000" stroke-width="0.3" transform="rotate(-90 442.80 312.00)" textLength="68.00" lengthAdjust="spacingAndGlyphs">Apoptotic HSCs (%)</text>
<text x="446.20" y="406.20" font-size="9.4" text-anchor="start" transform="translate(446.20 406.20) rotate(-46) skewX(-12) translate(-446.20 -406.20)"><tspan dy="0.00" font-size="9.40">Ptpn11</tspan><tspan dy="-3.80" font-size="6.40">+/+</tspan></text>
<text x="453.70" y="414.90" font-size="9.4" text-anchor="start" transform="translate(453.70 414.90) rotate(-46) skewX(-12) translate(-453.70 -414.90)"><tspan dy="0.00" font-size="9.40">LysM-Cre</tspan><tspan dy="-3.80" font-size="6.40">+</tspan></text>
<text x="475.70" y="412.90" font-size="9.4" text-anchor="start" transform="translate(475.70 412.90) rotate(-46) skewX(-12) translate(-475.70 -412.90)"><tspan dy="0.00" font-size="9.40">Ptpn11</tspan><tspan dy="-3.80" font-size="6.40">E76K/+</tspan></text>
<text x="484.20" y="421.60" font-size="9.4" text-anchor="start" transform="translate(484.20 421.60) rotate(-46) skewX(-12) translate(-484.20 -421.60)"><tspan dy="0.00" font-size="9.40">LysM-Cre</tspan><tspan dy="-3.80" font-size="6.40">+</tspan></text>
<text x="8.70" y="465.70" font-size="13.5" font-weight="bold" stroke="#000" stroke-width="0.35">G</text>
<rect x="62.60" y="476.00" width="4.20" height="5.00" fill="#c8102e"/>
<rect x="62.60" y="487.30" width="4.20" height="5.00" fill="#175289"/>
<text x="72.70" y="480.80" font-size="9.0" text-anchor="start" transform="translate(72.70 480.80) rotate(0) skewX(-12) translate(-72.70 -480.80)" textLength="74.20" lengthAdjust="spacingAndGlyphs"><tspan dy="0.00" font-size="9.00">Ptpn11</tspan><tspan dy="-2.70" font-size="5.20">+/+</tspan><tspan dy="2.70" font-size="9.00">LysM-Cre</tspan><tspan dy="-2.70" font-size="5.20">+</tspan></text>
<text x="72.70" y="492.10" font-size="9.0" text-anchor="start" transform="translate(72.70 492.10) rotate(0) skewX(-12) translate(-72.70 -492.10)" textLength="83.10" lengthAdjust="spacingAndGlyphs"><tspan dy="0.00" font-size="9.00">Ptpn11</tspan><tspan dy="-2.70" font-size="5.20">E76K/+</tspan><tspan dy="2.70" font-size="9.00">LysM-Cre</tspan><tspan dy="-2.70" font-size="5.20">+</tspan></text>
<line x1="53.50" y1="488.00" x2="53.50" y2="593.50" stroke="#000" stroke-width="1" shape-rendering="crispEdges"/>
<line x1="50.50" y1="593.50" x2="53.50" y2="593.50" stroke="#000" stroke-width="1" shape-rendering="crispEdges"/>
<text x="45.40" y="597.20" font-size="9.4" text-anchor="end">0</text>
<line x1="50.50" y1="572.40" x2="53.50" y2="572.40" stroke="#000" stroke-width="1" shape-rendering="crispEdges"/>
<text x="45.40" y="576.10" font-size="9.4" text-anchor="end">20</text>
<line x1="50.50" y1="551.30" x2="53.50" y2="551.30" stroke="#000" stroke-width="1" shape-rendering="crispEdges"/>
<text x="45.40" y="555.00" font-size="9.4" text-anchor="end">40</text>
<line x1="50.50" y1="530.20" x2="53.50" y2="530.20" stroke="#000" stroke-width="1" shape-rendering="crispEdges"/>
<text x="45.40" y="533.90" font-size="9.4" text-anchor="end">60</text>
<line x1="50.50" y1="509.10" x2="53.50" y2="509.10" stroke="#000" stroke-width="1" shape-rendering="crispEdges"/>
<text x="45.40" y="512.80" font-size="9.4" text-anchor="end">80</text>
<line x1="50.50" y1="488.00" x2="53.50" y2="488.00" stroke="#000" stroke-width="1" shape-rendering="crispEdges"/>
<text x="45.40" y="491.70" font-size="9.4" text-anchor="end">100</text>
<line x1="53.00" y1="593.50" x2="147.30" y2="593.50" stroke="#000" stroke-width="1" shape-rendering="crispEdges"/>
<line x1="53.50" y1="593.50" x2="53.50" y2="596.50" stroke="#000" stroke-width="1" shape-rendering="crispEdges"/>
<line x1="84.60" y1="593.50" x2="84.60" y2="596.50" stroke="#000" stroke-width="1" shape-rendering="crispEdges"/>
<line x1="115.70" y1="593.50" x2="115.70" y2="596.50" stroke="#000" stroke-width="1" shape-rendering="crispEdges"/>
<line x1="146.80" y1="593.50" x2="146.80" y2="596.50" stroke="#000" stroke-width="1" shape-rendering="crispEdges"/>
<line x1="64.50" y1="511.21" x2="64.50" y2="504.25" stroke="#000" stroke-width="1" shape-rendering="crispEdges"/>
<line x1="63.00" y1="504.25" x2="66.00" y2="504.25" stroke="#000" stroke-width="1" shape-rendering="crispEdges"/>
<line x1="72.50" y1="538.22" x2="72.50" y2="534.21" stroke="#000" stroke-width="1" shape-rendering="crispEdges"/>
<line x1="71.00" y1="534.21" x2="74.00" y2="534.21" stroke="#000" stroke-width="1" shape-rendering="crispEdges"/>
<rect x="60.50" y="511.21" width="8.00" height="82.29" fill="#c8102e"/>
<rect x="68.30" y="538.22" width="1.20" height="55.28" fill="#c8102e"/>
<rect x="68.50" y="538.22" width="8.00" height="55.28" fill="#175289"/>
<line x1="95.60" y1="569.55" x2="95.60" y2="565.86" stroke="#000" stroke-width="1" shape-rendering="crispEdges"/>
<line x1="94.10" y1="565.86" x2="97.10" y2="565.86" stroke="#000" stroke-width="1" shape-rendering="crispEdges"/>
<line x1="103.60" y1="554.47" x2="103.60" y2="549.93" stroke="#000" stroke-width="1" shape-rendering="crispEdges"/>
<line x1="102.10" y1="549.93" x2="105.10" y2="549.93" stroke="#000" stroke-width="1" shape-rendering="crispEdges"/>
<rect x="91.60" y="569.55" width="8.00" height="23.95" fill="#c8102e"/>
<rect x="99.40" y="569.55" width="1.20" height="23.95" fill="#c8102e"/>
<rect x="99.60" y="554.47" width="8.00" height="39.03" fill="#175289"/>
<line x1="126.70" y1="589.49" x2="126.70" y2="587.91" stroke="#000" stroke-width="1" shape-rendering="crispEdges"/>
<line x1="125.20" y1="587.91" x2="128.20" y2="587.91" stroke="#000" stroke-width="1" shape-rendering="crispEdges"/>
<line x1="134.70" y1="580.52" x2="134.70" y2="575.57" stroke="#000" stroke-width="1" shape-rendering="crispEdges"/>
<line x1="133.20" y1="575.57" x2="136.20" y2="575.57" stroke="#000" stroke-width="1" shape-rendering="crispEdges"/>
<rect x="122.70" y="589.49" width="8.00" height="4.01" fill="#c8102e"/>
<rect x="130.50" y="589.49" width="1.20" height="4.01" fill="#c8102e"/>
<rect x="130.70" y="580.52" width="8.00" height="12.98" fill="#175289"/>
<text x="74.17" y="531.00" font-size="8.5" text-anchor="middle" stroke="#000" stroke-width="0.2">**</text>
<text x="105.50" y="547.00" font-size="8.5" text-anchor="middle" stroke="#000" stroke-width="0.2">*</text>
<text x="136.84" y="572.50" font-size="8.5" text-anchor="middle" stroke="#000" stroke-width="0.2">*</text>
<text x="24.00" y="541.00" font-size="11.2" text-anchor="middle" stroke="#000" stroke-width="0.3" transform="rotate(-90 24.00 541.00)" textLength="36.60" lengthAdjust="spacingAndGlyphs">% of HSCs</text>
<text x="67.20" y="612.10" font-size="10" text-anchor="start" transform="rotate(-40 67.20 612.10)"><tspan dy="0.00" font-size="10.00">G</tspan><tspan dy="3.30" font-size="7.60">0</tspan></text>
<text x="98.50" y="612.70" font-size="10" text-anchor="start" transform="rotate(-40 98.50 612.70)"><tspan dy="0.00" font-size="10.00">G</tspan><tspan dy="3.30" font-size="7.60">1</tspan></text>
<text x="114.60" y="625.80" font-size="10" text-anchor="start" transform="rotate(-40 114.60 625.80)"><tspan dy="0.00" font-size="10.00">S/G</tspan><tspan dy="2.60" font-size="7.60">2</tspan><tspan dy="-2.60" font-size="10.00">/M</tspan></text>
<text x="177.30" y="465.70" font-size="13.5" font-weight="bold" stroke="#000" stroke-width="0.35">H</text>
<text x="239.30" y="488.80" font-size="11.3" text-anchor="start" font-weight="bold" textLength="237.30" lengthAdjust="spacingAndGlyphs"><tspan dy="0.00" font-size="11.30">HSCs (Lin</tspan><tspan dy="-4.20" font-size="10.50">−</tspan><tspan dy="4.20" font-size="11.30">Sca-1</tspan><tspan dy="-4.20" font-size="10.50">+</tspan><tspan dy="4.20" font-size="11.30">c-Kit</tspan><tspan dy="-4.20" font-size="10.50">+</tspan><tspan dy="4.20" font-size="11.30">CD150</tspan><tspan dy="-4.20" font-size="10.50">+</tspan><tspan dy="4.20" font-size="11.30">CD48</tspan><tspan dy="-4.20" font-size="10.50">−</tspan><tspan dy="4.20" font-size="11.30">Flk2</tspan><tspan dy="-4.20" font-size="10.50">−</tspan><tspan dy="4.20" font-size="11.30">)</tspan></text>
<line x1="234.50" y1="493.30" x2="482.00" y2="493.30" stroke="#000" stroke-width="1.1" shape-rendering="crispEdges"/>
<clipPath id="clip1"><rect x="212.00" y="500.80" width="78.60" height="78.20"/></clipPath>
<g clip-path="url(#clip1)">
<path d="M205.00,578.60 C206.63,578.60 216.78,578.63 219.00,578.60 C221.22,578.57 223.03,578.57 224.00,578.30 C224.97,578.03 226.78,576.86 227.30,576.30 C227.83,575.74 228.23,574.64 228.50,573.50 C228.77,572.36 229.33,568.05 229.60,566.50 C229.87,564.95 230.53,561.08 230.80,560.20 C231.07,559.33 231.64,560.01 231.90,559.00 C232.16,557.99 232.66,553.45 233.00,551.50 C233.34,549.55 234.36,543.84 234.80,542.30 C235.24,540.76 236.39,538.30 236.80,538.30 C237.21,538.30 238.00,540.76 238.30,542.30 C238.60,543.84 239.17,549.21 239.40,551.50 C239.63,553.79 239.96,559.61 240.30,561.90 C240.64,564.19 241.80,569.42 242.30,571.10 C242.80,572.78 243.92,575.52 244.60,576.30 C245.28,577.08 246.75,577.59 248.10,577.80 C249.45,578.01 254.87,578.10 256.20,578.10 C257.53,578.10 258.76,577.95 259.50,577.80 C260.24,577.65 261.68,576.76 262.50,576.80 C263.32,576.83 265.04,577.89 266.50,578.10 C267.96,578.31 271.09,578.54 275.00,578.60 C278.91,578.66 297.08,578.60 300.00,578.60" fill="none" stroke="#1a4f8e" stroke-width="1.65" stroke-linejoin="round"/>
<path d="M205.00,578.60 C206.52,578.60 216.07,578.65 218.00,578.60 C219.93,578.55 220.68,578.47 221.50,578.20 C222.32,577.93 224.32,576.65 225.00,576.30 C225.68,575.95 226.83,575.26 227.30,575.20 C227.77,575.14 228.59,576.00 229.00,575.80 C229.41,575.60 230.39,574.71 230.80,573.50 C231.21,572.29 232.17,567.56 232.50,565.40 C232.83,563.24 233.38,556.91 233.60,555.00 C233.82,553.09 234.19,549.95 234.40,549.00 C234.61,548.05 235.12,546.81 235.40,546.90 C235.68,546.99 236.46,548.85 236.80,549.80 C237.14,550.75 237.95,555.07 238.30,555.00 C238.65,554.93 239.47,550.54 239.80,549.20 C240.13,547.86 240.74,544.43 241.10,543.50 C241.46,542.57 242.56,542.08 242.90,541.20 C243.24,540.33 243.75,536.82 244.00,536.00 C244.25,535.18 244.79,533.73 245.00,534.20 C245.21,534.67 245.58,537.71 245.80,540.00 C246.02,542.29 246.63,550.44 246.90,553.80 C247.17,557.16 247.76,566.71 248.10,568.80 C248.44,570.89 249.26,571.09 249.80,571.70 C250.34,572.31 252.02,573.32 252.70,574.00 C253.38,574.68 254.92,576.99 255.60,577.50 C256.28,578.01 256.82,578.27 258.50,578.40 C260.18,578.53 265.16,578.58 270.00,578.60 C274.84,578.62 296.50,578.60 300.00,578.60" fill="none" stroke="#33b34a" stroke-width="1.65" stroke-linejoin="round"/>
<path d="M205.00,576.00 C205.82,575.88 211.08,575.02 212.00,575.00 C212.92,574.98 212.60,575.51 212.90,575.80 C213.20,576.09 214.13,577.37 214.60,577.50 C215.07,577.63 216.36,576.90 216.90,576.90 C217.44,576.90 218.66,577.33 219.20,577.50 C219.74,577.67 220.56,578.34 221.50,578.40 C222.44,578.46 226.29,578.34 227.30,578.00 C228.31,577.66 229.66,575.76 230.20,575.50 C230.74,575.24 231.50,575.71 231.90,575.80 C232.30,575.89 233.19,576.51 233.60,576.30 C234.01,576.09 234.94,574.61 235.40,574.00 C235.86,573.39 237.10,571.32 237.50,571.10 C237.90,570.88 238.44,571.96 238.80,572.10 C239.16,572.24 240.22,572.37 240.60,572.30 C240.98,572.23 241.76,572.04 242.10,571.50 C242.44,570.96 243.21,568.81 243.50,567.70 C243.79,566.59 244.27,564.82 244.60,562.00 C244.93,559.18 245.89,546.80 246.30,543.50 C246.71,540.20 247.76,534.58 248.10,533.70 C248.44,532.83 248.86,534.05 249.20,536.00 C249.54,537.95 250.66,547.77 251.00,550.40 C251.34,553.02 251.77,557.03 252.10,558.50 C252.43,559.97 253.39,561.52 253.80,563.00 C254.21,564.48 255.19,569.71 255.60,571.20 C256.01,572.69 256.83,574.98 257.30,575.80 C257.77,576.62 258.12,577.87 259.60,578.20 C261.08,578.53 265.29,578.55 270.00,578.60 C274.71,578.65 296.50,578.60 300.00,578.60" fill="none" stroke="#d0143c" stroke-width="1.65" stroke-linejoin="round"/>
</g>
<line x1="209.20" y1="579.00" x2="212.00" y2="579.00" stroke="#000" stroke-width="1.0" shape-rendering="crispEdges"/>
<text x="205.40" y="582.30" font-size="9.3" text-anchor="end">0</text>
<line x1="210.40" y1="577.16" x2="212.00" y2="577.16" stroke="#000" stroke-width="0.8" shape-rendering="crispEdges"/>
<line x1="210.40" y1="575.33" x2="212.00" y2="575.33" stroke="#000" stroke-width="0.8" shape-rendering="crispEdges"/>
<line x1="210.40" y1="573.49" x2="212.00" y2="573.49" stroke="#000" stroke-width="0.8" shape-rendering="crispEdges"/>
<line x1="210.40" y1="571.65" x2="212.00" y2="571.65" stroke="#000" stroke-width="0.8" shape-rendering="crispEdges"/>
<line x1="210.40" y1="569.81" x2="212.00" y2="569.81" stroke="#000" stroke-width="0.8" shape-rendering="crispEdges"/>
<line x1="210.40" y1="567.98" x2="212.00" y2="567.98" stroke="#000" stroke-width="0.8" shape-rendering="crispEdges"/>
<line x1="210.40" y1="566.14" x2="212.00" y2="566.14" stroke="#000" stroke-width="0.8" shape-rendering="crispEdges"/>
<line x1="209.20" y1="564.30" x2="212.00" y2="564.30" stroke="#000" stroke-width="1.0" shape-rendering="crispEdges"/>
<text x="205.40" y="567.60" font-size="9.3" text-anchor="end">20</text>
<line x1="210.40" y1="562.46" x2="212.00" y2="562.46" stroke="#000" stroke-width="0.8" shape-rendering="crispEdges"/>
<line x1="210.40" y1="560.62" x2="212.00" y2="560.62" stroke="#000" stroke-width="0.8" shape-rendering="crispEdges"/>
<line x1="210.40" y1="558.79" x2="212.00" y2="558.79" stroke="#000" stroke-width="0.8" shape-rendering="crispEdges"/>
<line x1="210.40" y1="556.95" x2="212.00" y2="556.95" stroke="#000" stroke-width="0.8" shape-rendering="crispEdges"/>
<line x1="210.40" y1="555.11" x2="212.00" y2="555.11" stroke="#000" stroke-width="0.8" shape-rendering="crispEdges"/>
<line x1="210.40" y1="553.27" x2="212.00" y2="553.27" stroke="#000" stroke-width="0.8" shape-rendering="crispEdges"/>
<line x1="210.40" y1="551.44" x2="212.00" y2="551.44" stroke="#000" stroke-width="0.8" shape-rendering="crispEdges"/>
<line x1="209.20" y1="549.60" x2="212.00" y2="549.60" stroke="#000" stroke-width="1.0" shape-rendering="crispEdges"/>
<text x="205.40" y="552.90" font-size="9.3" text-anchor="end">40</text>
<line x1="210.40" y1="547.76" x2="212.00" y2="547.76" stroke="#000" stroke-width="0.8" shape-rendering="crispEdges"/>
<line x1="210.40" y1="545.92" x2="212.00" y2="545.92" stroke="#000" stroke-width="0.8" shape-rendering="crispEdges"/>
<line x1="210.40" y1="544.09" x2="212.00" y2="544.09" stroke="#000" stroke-width="0.8" shape-rendering="crispEdges"/>
<line x1="210.40" y1="542.25" x2="212.00" y2="542.25" stroke="#000" stroke-width="0.8" shape-rendering="crispEdges"/>
<line x1="210.40" y1="540.41" x2="212.00" y2="540.41" stroke="#000" stroke-width="0.8" shape-rendering="crispEdges"/>
<line x1="210.40" y1="538.58" x2="212.00" y2="538.58" stroke="#000" stroke-width="0.8" shape-rendering="crispEdges"/>
<line x1="210.40" y1="536.74" x2="212.00" y2="536.74" stroke="#000" stroke-width="0.8" shape-rendering="crispEdges"/>
<line x1="209.20" y1="534.90" x2="212.00" y2="534.90" stroke="#000" stroke-width="1.0" shape-rendering="crispEdges"/>
<text x="205.40" y="538.20" font-size="9.3" text-anchor="end">60</text>
<line x1="210.40" y1="533.06" x2="212.00" y2="533.06" stroke="#000" stroke-width="0.8" shape-rendering="crispEdges"/>
<line x1="210.40" y1="531.23" x2="212.00" y2="531.23" stroke="#000" stroke-width="0.8" shape-rendering="crispEdges"/>
<line x1="210.40" y1="529.39" x2="212.00" y2="529.39" stroke="#000" stroke-width="0.8" shape-rendering="crispEdges"/>
<line x1="210.40" y1="527.55" x2="212.00" y2="527.55" stroke="#000" stroke-width="0.8" shape-rendering="crispEdges"/>
<line x1="210.40" y1="525.71" x2="212.00" y2="525.71" stroke="#000" stroke-width="0.8" shape-rendering="crispEdges"/>
<line x1="210.40" y1="523.88" x2="212.00" y2="523.88" stroke="#000" stroke-width="0.8" shape-rendering="crispEdges"/>
<line x1="210.40" y1="522.04" x2="212.00" y2="522.04" stroke="#000" stroke-width="0.8" shape-rendering="crispEdges"/>
<line x1="209.20" y1="520.20" x2="212.00" y2="520.20" stroke="#000" stroke-width="1.0" shape-rendering="crispEdges"/>
<text x="205.40" y="523.50" font-size="9.3" text-anchor="end">80</text>
<line x1="210.40" y1="518.36" x2="212.00" y2="518.36" stroke="#000" stroke-width="0.8" shape-rendering="crispEdges"/>
<line x1="210.40" y1="516.52" x2="212.00" y2="516.52" stroke="#000" stroke-width="0.8" shape-rendering="crispEdges"/>
<line x1="210.40" y1="514.69" x2="212.00" y2="514.69" stroke="#000" stroke-width="0.8" shape-rendering="crispEdges"/>
<line x1="210.40" y1="512.85" x2="212.00" y2="512.85" stroke="#000" stroke-width="0.8" shape-rendering="crispEdges"/>
<line x1="210.40" y1="511.01" x2="212.00" y2="511.01" stroke="#000" stroke-width="0.8" shape-rendering="crispEdges"/>
<line x1="210.40" y1="509.18" x2="212.00" y2="509.18" stroke="#000" stroke-width="0.8" shape-rendering="crispEdges"/>
<line x1="210.40" y1="507.34" x2="212.00" y2="507.34" stroke="#000" stroke-width="0.8" shape-rendering="crispEdges"/>
<line x1="209.20" y1="505.50" x2="212.00" y2="505.50" stroke="#000" stroke-width="1.0" shape-rendering="crispEdges"/>
<text x="205.40" y="508.80" font-size="9.3" text-anchor="end">100</text>
<line x1="225.90" y1="579.00" x2="225.90" y2="581.80" stroke="#000" stroke-width="1.0" shape-rendering="crispEdges"/>
<line x1="252.70" y1="579.00" x2="252.70" y2="581.80" stroke="#000" stroke-width="1.0" shape-rendering="crispEdges"/>
<line x1="279.50" y1="579.00" x2="279.50" y2="581.80" stroke="#000" stroke-width="1.0" shape-rendering="crispEdges"/>
<line x1="215.24" y1="579.00" x2="215.24" y2="580.70" stroke="#000" stroke-width="0.8" shape-rendering="crispEdges"/>
<line x1="217.83" y1="579.00" x2="217.83" y2="580.70" stroke="#000" stroke-width="0.8" shape-rendering="crispEdges"/>
<line x1="219.95" y1="579.00" x2="219.95" y2="580.70" stroke="#000" stroke-width="0.8" shape-rendering="crispEdges"/>
<line x1="221.75" y1="579.00" x2="221.75" y2="580.70" stroke="#000" stroke-width="0.8" shape-rendering="crispEdges"/>
<line x1="223.30" y1="579.00" x2="223.30" y2="580.70" stroke="#000" stroke-width="0.8" shape-rendering="crispEdges"/>
<line x1="224.67" y1="579.00" x2="224.67" y2="580.70" stroke="#000" stroke-width="0.8" shape-rendering="crispEdges"/>
<line x1="233.97" y1="579.00" x2="233.97" y2="580.70" stroke="#000" stroke-width="0.8" shape-rendering="crispEdges"/>
<line x1="238.69" y1="579.00" x2="238.69" y2="580.70" stroke="#000" stroke-width="0.8" shape-rendering="crispEdges"/>
<line x1="242.04" y1="579.00" x2="242.04" y2="580.70" stroke="#000" stroke-width="0.8" shape-rendering="crispEdges"/>
<line x1="244.63" y1="579.00" x2="244.63" y2="580.70" stroke="#000" stroke-width="0.8" shape-rendering="crispEdges"/>
<line x1="246.75" y1="579.00" x2="246.75" y2="580.70" stroke="#000" stroke-width="0.8" shape-rendering="crispEdges"/>
<line x1="248.55" y1="579.00" x2="248.55" y2="580.70" stroke="#000" stroke-width="0.8" shape-rendering="crispEdges"/>
<line x1="250.10" y1="579.00" x2="250.10" y2="580.70" stroke="#000" stroke-width="0.8" shape-rendering="crispEdges"/>
<line x1="251.47" y1="579.00" x2="251.47" y2="580.70" stroke="#000" stroke-width="0.8" shape-rendering="crispEdges"/>
<line x1="260.77" y1="579.00" x2="260.77" y2="580.70" stroke="#000" stroke-width="0.8" shape-rendering="crispEdges"/>
<line x1="265.49" y1="579.00" x2="265.49" y2="580.70" stroke="#000" stroke-width="0.8" shape-rendering="crispEdges"/>
<line x1="268.84" y1="579.00" x2="268.84" y2="580.70" stroke="#000" stroke-width="0.8" shape-rendering="crispEdges"/>
<line x1="271.43" y1="579.00" x2="271.43" y2="580.70" stroke="#000" stroke-width="0.8" shape-rendering="crispEdges"/>
<line x1="273.55" y1="579.00" x2="273.55" y2="580.70" stroke="#000" stroke-width="0.8" shape-rendering="crispEdges"/>
<line x1="275.35" y1="579.00" x2="275.35" y2="580.70" stroke="#000" stroke-width="0.8" shape-rendering="crispEdges"/>
<line x1="276.90" y1="579.00" x2="276.90" y2="580.70" stroke="#000" stroke-width="0.8" shape-rendering="crispEdges"/>
<line x1="278.27" y1="579.00" x2="278.27" y2="580.70" stroke="#000" stroke-width="0.8" shape-rendering="crispEdges"/>
<line x1="287.57" y1="579.00" x2="287.57" y2="580.70" stroke="#000" stroke-width="0.8" shape-rendering="crispEdges"/>
<rect x="212.00" y="500.80" width="78.60" height="78.20" fill="none" stroke="#000" stroke-width="1.6"/>
<text x="226.70" y="593.30" font-size="9.0" text-anchor="middle"><tspan dy="0.00" font-size="9.00">10</tspan><tspan dy="-3.30" font-size="6.40">2</tspan></text>
<text x="253.50" y="593.30" font-size="9.0" text-anchor="middle"><tspan dy="0.00" font-size="9.00">10</tspan><tspan dy="-3.30" font-size="6.40">3</tspan></text>
<text x="280.30" y="593.30" font-size="9.0" text-anchor="middle"><tspan dy="0.00" font-size="9.00">10</tspan><tspan dy="-3.30" font-size="6.40">4</tspan></text>
<text x="251.30" y="606.60" font-size="11.0" text-anchor="middle" stroke="#000" stroke-width="0.15" textLength="18.30" lengthAdjust="spacingAndGlyphs">p-Erk</text>
<clipPath id="clip2"><rect x="319.80" y="500.80" width="77.50" height="78.20"/></clipPath>
<g clip-path="url(#clip2)">
<path d="M300.00,578.60 C302.45,578.60 318.17,578.65 321.00,578.60 C323.83,578.55 323.58,578.62 324.30,578.20 C325.02,577.78 326.59,577.00 327.20,575.00 C327.81,573.00 329.02,565.42 329.50,561.10 C329.98,556.78 330.96,542.04 331.30,538.00 C331.64,533.96 332.13,528.24 332.40,526.50 C332.67,524.76 333.33,523.10 333.60,523.10 C333.87,523.10 334.43,524.76 334.70,526.50 C334.97,528.24 335.56,534.63 335.90,538.00 C336.24,541.37 337.20,551.62 337.60,555.40 C338.00,559.18 338.89,567.91 339.30,570.40 C339.71,572.88 340.69,575.79 341.10,576.70 C341.51,577.61 341.76,577.98 342.80,578.20 C343.84,578.42 343.33,578.55 350.00,578.60 C356.67,578.65 394.17,578.60 400.00,578.60" fill="none" stroke="#1a4f8e" stroke-width="1.65" stroke-linejoin="round"/>
<path d="M300.00,578.60 C302.45,578.60 317.56,578.65 321.00,578.60 C324.44,578.55 328.17,578.89 329.50,578.20 C330.83,577.51 331.85,574.42 332.40,572.70 C332.95,570.99 333.79,566.46 334.20,563.50 C334.61,560.54 335.50,551.21 335.90,547.30 C336.30,543.39 337.26,532.62 337.60,530.00 C337.94,527.38 338.53,525.64 338.80,524.80 C339.07,523.96 339.63,522.87 339.90,522.80 C340.17,522.73 340.83,522.68 341.10,524.20 C341.37,525.72 341.86,532.16 342.20,535.80 C342.54,539.44 343.59,551.50 344.00,555.40 C344.41,559.30 345.30,566.79 345.70,569.20 C346.10,571.62 346.93,575.05 347.40,576.10 C347.87,577.15 348.23,577.91 349.70,578.20 C351.17,578.49 354.13,578.55 360.00,578.60 C365.87,578.65 395.33,578.60 400.00,578.60" fill="none" stroke="#33b34a" stroke-width="1.65" stroke-linejoin="round"/>
<path d="M300.00,578.60 C302.45,578.60 317.88,578.65 321.00,578.60 C324.12,578.55 325.71,578.49 326.70,578.20 C327.69,577.91 328.76,576.68 329.50,576.10 C330.24,575.52 332.25,573.74 333.00,573.20 C333.75,572.66 335.36,572.36 335.90,571.50 C336.44,570.64 337.20,567.55 337.60,565.80 C338.00,564.05 338.89,559.19 339.30,556.50 C339.71,553.81 340.69,546.20 341.10,542.70 C341.51,539.20 342.46,528.79 342.80,526.50 C343.14,524.21 343.73,522.98 344.00,523.10 C344.27,523.22 344.83,526.76 345.10,527.50 C345.37,528.24 346.03,527.50 346.30,529.40 C346.57,531.30 347.13,540.10 347.40,543.80 C347.67,547.50 348.26,557.87 348.60,561.10 C348.94,564.33 349.83,570.02 350.30,571.50 C350.77,572.98 352.06,573.60 352.60,573.80 C353.14,574.00 354.36,573.00 354.90,573.20 C355.44,573.40 356.52,575.02 357.20,575.50 C357.88,575.98 359.63,577.02 360.70,577.30 C361.77,577.58 365.06,577.89 366.40,577.90 C367.74,577.91 370.85,577.37 372.20,577.40 C373.55,577.43 376.51,578.06 378.00,578.20 C379.49,578.34 382.43,578.55 385.00,578.60 C387.57,578.65 398.25,578.60 400.00,578.60" fill="none" stroke="#d0143c" stroke-width="1.65" stroke-linejoin="round"/>
</g>
<line x1="317.00" y1="579.00" x2="319.80" y2="579.00" stroke="#000" stroke-width="1.0" shape-rendering="crispEdges"/>
<text x="313.20" y="582.30" font-size="9.3" text-anchor="end">0</text>
<line x1="318.20" y1="577.16" x2="319.80" y2="577.16" stroke="#000" stroke-width="0.8" shape-rendering="crispEdges"/>
<line x1="318.20" y1="575.33" x2="319.80" y2="575.33" stroke="#000" stroke-width="0.8" shape-rendering="crispEdges"/>
<line x1="318.20" y1="573.49" x2="319.80" y2="573.49" stroke="#000" stroke-width="0.8" shape-rendering="crispEdges"/>
<line x1="318.20" y1="571.65" x2="319.80" y2="571.65" stroke="#000" stroke-width="0.8" shape-rendering="crispEdges"/>
<line x1="318.20" y1="569.81" x2="319.80" y2="569.81" stroke="#000" stroke-width="0.8" shape-rendering="crispEdges"/>
<line x1="318.20" y1="567.98" x2="319.80" y2="567.98" stroke="#000" stroke-width="0.8" shape-rendering="crispEdges"/>
<line x1="318.20" y1="566.14" x2="319.80" y2="566.14" stroke="#000" stroke-width="0.8" shape-rendering="crispEdges"/>
<line x1="317.00" y1="564.30" x2="319.80" y2="564.30" stroke="#000" stroke-width="1.0" shape-rendering="crispEdges"/>
<text x="313.20" y="567.60" font-size="9.3" text-anchor="end">20</text>
<line x1="318.20" y1="562.46" x2="319.80" y2="562.46" stroke="#000" stroke-width="0.8" shape-rendering="crispEdges"/>
<line x1="318.20" y1="560.62" x2="319.80" y2="560.62" stroke="#000" stroke-width="0.8" shape-rendering="crispEdges"/>
<line x1="318.20" y1="558.79" x2="319.80" y2="558.79" stroke="#000" stroke-width="0.8" shape-rendering="crispEdges"/>
<line x1="318.20" y1="556.95" x2="319.80" y2="556.95" stroke="#000" stroke-width="0.8" shape-rendering="crispEdges"/>
<line x1="318.20" y1="555.11" x2="319.80" y2="555.11" stroke="#000" stroke-width="0.8" shape-rendering="crispEdges"/>
<line x1="318.20" y1="553.27" x2="319.80" y2="553.27" stroke="#000" stroke-width="0.8" shape-rendering="crispEdges"/>
<line x1="318.20" y1="551.44" x2="319.80" y2="551.44" stroke="#000" stroke-width="0.8" shape-rendering="crispEdges"/>
<line x1="317.00" y1="549.60" x2="319.80" y2="549.60" stroke="#000" stroke-width="1.0" shape-rendering="crispEdges"/>
<text x="313.20" y="552.90" font-size="9.3" text-anchor="end">40</text>
<line x1="318.20" y1="547.76" x2="319.80" y2="547.76" stroke="#000" stroke-width="0.8" shape-rendering="crispEdges"/>
<line x1="318.20" y1="545.92" x2="319.80" y2="545.92" stroke="#000" stroke-width="0.8" shape-rendering="crispEdges"/>
<line x1="318.20" y1="544.09" x2="319.80" y2="544.09" stroke="#000" stroke-width="0.8" shape-rendering="crispEdges"/>
<line x1="318.20" y1="542.25" x2="319.80" y2="542.25" stroke="#000" stroke-width="0.8" shape-rendering="crispEdges"/>
<line x1="318.20" y1="540.41" x2="319.80" y2="540.41" stroke="#000" stroke-width="0.8" shape-rendering="crispEdges"/>
<line x1="318.20" y1="538.58" x2="319.80" y2="538.58" stroke="#000" stroke-width="0.8" shape-rendering="crispEdges"/>
<line x1="318.20" y1="536.74" x2="319.80" y2="536.74" stroke="#000" stroke-width="0.8" shape-rendering="crispEdges"/>
<line x1="317.00" y1="534.90" x2="319.80" y2="534.90" stroke="#000" stroke-width="1.0" shape-rendering="crispEdges"/>
<text x="313.20" y="538.20" font-size="9.3" text-anchor="end">60</text>
<line x1="318.20" y1="533.06" x2="319.80" y2="533.06" stroke="#000" stroke-width="0.8" shape-rendering="crispEdges"/>
<line x1="318.20" y1="531.23" x2="319.80" y2="531.23" stroke="#000" stroke-width="0.8" shape-rendering="crispEdges"/>
<line x1="318.20" y1="529.39" x2="319.80" y2="529.39" stroke="#000" stroke-width="0.8" shape-rendering="crispEdges"/>
<line x1="318.20" y1="527.55" x2="319.80" y2="527.55" stroke="#000" stroke-width="0.8" shape-rendering="crispEdges"/>
<line x1="318.20" y1="525.71" x2="319.80" y2="525.71" stroke="#000" stroke-width="0.8" shape-rendering="crispEdges"/>
<line x1="318.20" y1="523.88" x2="319.80" y2="523.88" stroke="#000" stroke-width="0.8" shape-rendering="crispEdges"/>
<line x1="318.20" y1="522.04" x2="319.80" y2="522.04" stroke="#000" stroke-width="0.8" shape-rendering="crispEdges"/>
<line x1="317.00" y1="520.20" x2="319.80" y2="520.20" stroke="#000" stroke-width="1.0" shape-rendering="crispEdges"/>
<text x="313.20" y="523.50" font-size="9.3" text-anchor="end">80</text>
<line x1="318.20" y1="518.36" x2="319.80" y2="518.36" stroke="#000" stroke-width="0.8" shape-rendering="crispEdges"/>
<line x1="318.20" y1="516.52" x2="319.80" y2="516.52" stroke="#000" stroke-width="0.8" shape-rendering="crispEdges"/>
<line x1="318.20" y1="514.69" x2="319.80" y2="514.69" stroke="#000" stroke-width="0.8" shape-rendering="crispEdges"/>
<line x1="318.20" y1="512.85" x2="319.80" y2="512.85" stroke="#000" stroke-width="0.8" shape-rendering="crispEdges"/>
<line x1="318.20" y1="511.01" x2="319.80" y2="511.01" stroke="#000" stroke-width="0.8" shape-rendering="crispEdges"/>
<line x1="318.20" y1="509.18" x2="319.80" y2="509.18" stroke="#000" stroke-width="0.8" shape-rendering="crispEdges"/>
<line x1="318.20" y1="507.34" x2="319.80" y2="507.34" stroke="#000" stroke-width="0.8" shape-rendering="crispEdges"/>
<line x1="317.00" y1="505.50" x2="319.80" y2="505.50" stroke="#000" stroke-width="1.0" shape-rendering="crispEdges"/>
<text x="313.20" y="508.80" font-size="9.3" text-anchor="end">100</text>
<line x1="323.70" y1="579.00" x2="323.70" y2="581.80" stroke="#000" stroke-width="1.0" shape-rendering="crispEdges"/>
<line x1="335.20" y1="579.00" x2="335.20" y2="581.80" stroke="#000" stroke-width="1.0" shape-rendering="crispEdges"/>
<line x1="353.50" y1="579.00" x2="353.50" y2="581.80" stroke="#000" stroke-width="1.0" shape-rendering="crispEdges"/>
<line x1="371.80" y1="579.00" x2="371.80" y2="581.80" stroke="#000" stroke-width="1.0" shape-rendering="crispEdges"/>
<line x1="390.10" y1="579.00" x2="390.10" y2="581.80" stroke="#000" stroke-width="1.0" shape-rendering="crispEdges"/>
<line x1="326.59" y1="579.00" x2="326.59" y2="580.70" stroke="#000" stroke-width="0.8" shape-rendering="crispEdges"/>
<line x1="328.08" y1="579.00" x2="328.08" y2="580.70" stroke="#000" stroke-width="0.8" shape-rendering="crispEdges"/>
<line x1="329.28" y1="579.00" x2="329.28" y2="580.70" stroke="#000" stroke-width="0.8" shape-rendering="crispEdges"/>
<line x1="330.34" y1="579.00" x2="330.34" y2="580.70" stroke="#000" stroke-width="0.8" shape-rendering="crispEdges"/>
<line x1="331.29" y1="579.00" x2="331.29" y2="580.70" stroke="#000" stroke-width="0.8" shape-rendering="crispEdges"/>
<line x1="332.16" y1="579.00" x2="332.16" y2="580.70" stroke="#000" stroke-width="0.8" shape-rendering="crispEdges"/>
<line x1="332.98" y1="579.00" x2="332.98" y2="580.70" stroke="#000" stroke-width="0.8" shape-rendering="crispEdges"/>
<line x1="333.76" y1="579.00" x2="333.76" y2="580.70" stroke="#000" stroke-width="0.8" shape-rendering="crispEdges"/>
<line x1="334.50" y1="579.00" x2="334.50" y2="580.70" stroke="#000" stroke-width="0.8" shape-rendering="crispEdges"/>
<line x1="340.71" y1="579.00" x2="340.71" y2="580.70" stroke="#000" stroke-width="0.8" shape-rendering="crispEdges"/>
<line x1="343.93" y1="579.00" x2="343.93" y2="580.70" stroke="#000" stroke-width="0.8" shape-rendering="crispEdges"/>
<line x1="346.22" y1="579.00" x2="346.22" y2="580.70" stroke="#000" stroke-width="0.8" shape-rendering="crispEdges"/>
<line x1="347.99" y1="579.00" x2="347.99" y2="580.70" stroke="#000" stroke-width="0.8" shape-rendering="crispEdges"/>
<line x1="349.44" y1="579.00" x2="349.44" y2="580.70" stroke="#000" stroke-width="0.8" shape-rendering="crispEdges"/>
<line x1="350.67" y1="579.00" x2="350.67" y2="580.70" stroke="#000" stroke-width="0.8" shape-rendering="crispEdges"/>
<line x1="351.73" y1="579.00" x2="351.73" y2="580.70" stroke="#000" stroke-width="0.8" shape-rendering="crispEdges"/>
<line x1="352.66" y1="579.00" x2="352.66" y2="580.70" stroke="#000" stroke-width="0.8" shape-rendering="crispEdges"/>
<line x1="359.01" y1="579.00" x2="359.01" y2="580.70" stroke="#000" stroke-width="0.8" shape-rendering="crispEdges"/>
<line x1="362.23" y1="579.00" x2="362.23" y2="580.70" stroke="#000" stroke-width="0.8" shape-rendering="crispEdges"/>
<line x1="364.52" y1="579.00" x2="364.52" y2="580.70" stroke="#000" stroke-width="0.8" shape-rendering="crispEdges"/>
<line x1="366.29" y1="579.00" x2="366.29" y2="580.70" stroke="#000" stroke-width="0.8" shape-rendering="crispEdges"/>
<line x1="367.74" y1="579.00" x2="367.74" y2="580.70" stroke="#000" stroke-width="0.8" shape-rendering="crispEdges"/>
<line x1="368.97" y1="579.00" x2="368.97" y2="580.70" stroke="#000" stroke-width="0.8" shape-rendering="crispEdges"/>
<line x1="370.03" y1="579.00" x2="370.03" y2="580.70" stroke="#000" stroke-width="0.8" shape-rendering="crispEdges"/>
<line x1="370.96" y1="579.00" x2="370.96" y2="580.70" stroke="#000" stroke-width="0.8" shape-rendering="crispEdges"/>
<line x1="377.31" y1="579.00" x2="377.31" y2="580.70" stroke="#000" stroke-width="0.8" shape-rendering="crispEdges"/>
<line x1="380.53" y1="579.00" x2="380.53" y2="580.70" stroke="#000" stroke-width="0.8" shape-rendering="crispEdges"/>
<line x1="382.82" y1="579.00" x2="382.82" y2="580.70" stroke="#000" stroke-width="0.8" shape-rendering="crispEdges"/>
<line x1="384.59" y1="579.00" x2="384.59" y2="580.70" stroke="#000" stroke-width="0.8" shape-rendering="crispEdges"/>
<line x1="386.04" y1="579.00" x2="386.04" y2="580.70" stroke="#000" stroke-width="0.8" shape-rendering="crispEdges"/>
<line x1="387.27" y1="579.00" x2="387.27" y2="580.70" stroke="#000" stroke-width="0.8" shape-rendering="crispEdges"/>
<line x1="388.33" y1="579.00" x2="388.33" y2="580.70" stroke="#000" stroke-width="0.8" shape-rendering="crispEdges"/>
<line x1="389.26" y1="579.00" x2="389.26" y2="580.70" stroke="#000" stroke-width="0.8" shape-rendering="crispEdges"/>
<line x1="321.95" y1="579.00" x2="321.95" y2="580.70" stroke="#000" stroke-width="0.8" shape-rendering="crispEdges"/>
<line x1="321.47" y1="579.00" x2="321.47" y2="580.70" stroke="#000" stroke-width="0.8" shape-rendering="crispEdges"/>
<line x1="321.05" y1="579.00" x2="321.05" y2="580.70" stroke="#000" stroke-width="0.8" shape-rendering="crispEdges"/>
<line x1="320.67" y1="579.00" x2="320.67" y2="580.70" stroke="#000" stroke-width="0.8" shape-rendering="crispEdges"/>
<line x1="320.31" y1="579.00" x2="320.31" y2="580.70" stroke="#000" stroke-width="0.8" shape-rendering="crispEdges"/>
<rect x="319.80" y="500.80" width="77.50" height="78.20" fill="none" stroke="#000" stroke-width="1.6"/>
<text x="323.70" y="593.30" font-size="9.0" text-anchor="middle">0</text>
<text x="336.00" y="593.30" font-size="9.0" text-anchor="middle"><tspan dy="0.00" font-size="9.00">10</tspan><tspan dy="-3.30" font-size="6.40">2</tspan></text>
<text x="354.30" y="593.30" font-size="9.0" text-anchor="middle"><tspan dy="0.00" font-size="9.00">10</tspan><tspan dy="-3.30" font-size="6.40">3</tspan></text>
<text x="372.60" y="593.30" font-size="9.0" text-anchor="middle"><tspan dy="0.00" font-size="9.00">10</tspan><tspan dy="-3.30" font-size="6.40">4</tspan></text>
<text x="390.90" y="593.30" font-size="9.0" text-anchor="middle"><tspan dy="0.00" font-size="9.00">10</tspan><tspan dy="-3.30" font-size="6.40">5</tspan></text>
<text x="359.10" y="606.60" font-size="11.0" text-anchor="middle" stroke="#000" stroke-width="0.15" textLength="18.10" lengthAdjust="spacingAndGlyphs">p-Akt</text>
<clipPath id="clip3"><rect x="427.00" y="500.80" width="77.70" height="78.20"/></clipPath>
<g clip-path="url(#clip3)">
<path d="M410.00,578.60 C412.04,578.60 424.56,578.65 427.50,578.60 C430.44,578.55 434.00,578.70 435.20,578.20 C436.40,577.70 437.19,575.28 437.80,574.30 C438.41,573.32 439.88,572.19 440.40,569.80 C440.92,567.41 441.86,558.21 442.30,553.80 C442.74,549.39 443.76,536.63 444.20,532.00 C444.64,527.37 445.73,516.97 446.10,514.10 C446.47,511.23 447.10,507.40 447.40,507.40 C447.70,507.40 448.40,511.23 448.70,514.10 C449.00,516.97 449.71,527.67 450.00,532.00 C450.29,536.33 450.91,547.01 451.20,551.20 C451.49,555.39 452.20,565.06 452.50,567.90 C452.80,570.74 453.43,574.30 453.80,575.50 C454.17,576.70 454.39,577.84 455.70,578.20 C457.01,578.56 458.67,578.55 465.00,578.60 C471.33,578.65 504.75,578.60 510.00,578.60" fill="none" stroke="#1a4f8e" stroke-width="1.65" stroke-linejoin="round"/>
<path d="M410.00,578.60 C412.04,578.60 423.66,578.62 427.50,578.60 C431.34,578.58 440.65,578.68 442.90,578.40 C445.15,578.12 445.90,576.98 446.80,576.20 C447.70,575.42 449.94,572.53 450.60,571.70 C451.27,570.87 451.98,569.54 452.50,569.10 C453.02,568.66 454.58,569.24 455.10,567.90 C455.62,566.56 456.56,561.79 457.00,557.60 C457.44,553.41 458.48,537.08 458.90,532.00 C459.32,526.92 460.27,516.71 460.60,514.10 C460.93,511.49 461.42,509.60 461.70,509.60 C461.98,509.60 462.65,510.74 463.00,514.10 C463.35,517.46 464.35,533.02 464.70,538.40 C465.05,543.78 465.63,556.01 466.00,560.20 C466.37,564.39 467.46,572.20 467.90,574.30 C468.34,576.40 468.39,577.70 469.80,578.20 C471.21,578.70 475.31,578.55 480.00,578.60 C484.69,578.65 506.50,578.60 510.00,578.60" fill="none" stroke="#33b34a" stroke-width="1.65" stroke-linejoin="round"/>
<path d="M410.00,578.60 C412.04,578.60 423.51,578.67 427.50,578.60 C431.49,578.53 441.66,578.02 444.20,578.00 C446.74,577.98 447.81,578.38 449.30,578.40 C450.79,578.42 455.51,578.41 457.00,578.20 C458.49,577.99 461.05,576.82 462.10,576.60 C463.15,576.38 465.25,576.65 466.00,576.30 C466.75,575.95 467.99,575.93 468.50,573.60 C469.01,571.27 470.03,561.15 470.40,556.30 C470.77,551.45 471.40,537.38 471.70,532.00 C472.00,526.62 472.77,513.07 473.00,510.20 C473.23,507.33 473.48,506.94 473.70,507.40 C473.92,507.85 474.61,510.79 474.90,514.10 C475.19,517.41 475.90,530.27 476.20,535.80 C476.50,541.33 477.13,557.01 477.50,561.50 C477.87,565.99 478.88,572.35 479.40,574.30 C479.92,576.25 480.76,577.70 482.00,578.20 C483.24,578.70 486.73,578.55 490.00,578.60 C493.27,578.65 507.67,578.60 510.00,578.60" fill="none" stroke="#d0143c" stroke-width="1.65" stroke-linejoin="round"/>
</g>
<line x1="424.20" y1="579.00" x2="427.00" y2="579.00" stroke="#000" stroke-width="1.0" shape-rendering="crispEdges"/>
<text x="420.40" y="582.30" font-size="9.3" text-anchor="end">0</text>
<line x1="425.40" y1="577.16" x2="427.00" y2="577.16" stroke="#000" stroke-width="0.8" shape-rendering="crispEdges"/>
<line x1="425.40" y1="575.33" x2="427.00" y2="575.33" stroke="#000" stroke-width="0.8" shape-rendering="crispEdges"/>
<line x1="425.40" y1="573.49" x2="427.00" y2="573.49" stroke="#000" stroke-width="0.8" shape-rendering="crispEdges"/>
<line x1="425.40" y1="571.65" x2="427.00" y2="571.65" stroke="#000" stroke-width="0.8" shape-rendering="crispEdges"/>
<line x1="425.40" y1="569.81" x2="427.00" y2="569.81" stroke="#000" stroke-width="0.8" shape-rendering="crispEdges"/>
<line x1="425.40" y1="567.98" x2="427.00" y2="567.98" stroke="#000" stroke-width="0.8" shape-rendering="crispEdges"/>
<line x1="425.40" y1="566.14" x2="427.00" y2="566.14" stroke="#000" stroke-width="0.8" shape-rendering="crispEdges"/>
<line x1="424.20" y1="564.30" x2="427.00" y2="564.30" stroke="#000" stroke-width="1.0" shape-rendering="crispEdges"/>
<text x="420.40" y="567.60" font-size="9.3" text-anchor="end">20</text>
<line x1="425.40" y1="562.46" x2="427.00" y2="562.46" stroke="#000" stroke-width="0.8" shape-rendering="crispEdges"/>
<line x1="425.40" y1="560.62" x2="427.00" y2="560.62" stroke="#000" stroke-width="0.8" shape-rendering="crispEdges"/>
<line x1="425.40" y1="558.79" x2="427.00" y2="558.79" stroke="#000" stroke-width="0.8" shape-rendering="crispEdges"/>
<line x1="425.40" y1="556.95" x2="427.00" y2="556.95" stroke="#000" stroke-width="0.8" shape-rendering="crispEdges"/>
<line x1="425.40" y1="555.11" x2="427.00" y2="555.11" stroke="#000" stroke-width="0.8" shape-rendering="crispEdges"/>
<line x1="425.40" y1="553.27" x2="427.00" y2="553.27" stroke="#000" stroke-width="0.8" shape-rendering="crispEdges"/>
<line x1="425.40" y1="551.44" x2="427.00" y2="551.44" stroke="#000" stroke-width="0.8" shape-rendering="crispEdges"/>
<line x1="424.20" y1="549.60" x2="427.00" y2="549.60" stroke="#000" stroke-width="1.0" shape-rendering="crispEdges"/>
<text x="420.40" y="552.90" font-size="9.3" text-anchor="end">40</text>
<line x1="425.40" y1="547.76" x2="427.00" y2="547.76" stroke="#000" stroke-width="0.8" shape-rendering="crispEdges"/>
<line x1="425.40" y1="545.92" x2="427.00" y2="545.92" stroke="#000" stroke-width="0.8" shape-rendering="crispEdges"/>
<line x1="425.40" y1="544.09" x2="427.00" y2="544.09" stroke="#000" stroke-width="0.8" shape-rendering="crispEdges"/>
<line x1="425.40" y1="542.25" x2="427.00" y2="542.25" stroke="#000" stroke-width="0.8" shape-rendering="crispEdges"/>
<line x1="425.40" y1="540.41" x2="427.00" y2="540.41" stroke="#000" stroke-width="0.8" shape-rendering="crispEdges"/>
<line x1="425.40" y1="538.58" x2="427.00" y2="538.58" stroke="#000" stroke-width="0.8" shape-rendering="crispEdges"/>
<line x1="425.40" y1="536.74" x2="427.00" y2="536.74" stroke="#000" stroke-width="0.8" shape-rendering="crispEdges"/>
<line x1="424.20" y1="534.90" x2="427.00" y2="534.90" stroke="#000" stroke-width="1.0" shape-rendering="crispEdges"/>
<text x="420.40" y="538.20" font-size="9.3" text-anchor="end">60</text>
<line x1="425.40" y1="533.06" x2="427.00" y2="533.06" stroke="#000" stroke-width="0.8" shape-rendering="crispEdges"/>
<line x1="425.40" y1="531.23" x2="427.00" y2="531.23" stroke="#000" stroke-width="0.8" shape-rendering="crispEdges"/>
<line x1="425.40" y1="529.39" x2="427.00" y2="529.39" stroke="#000" stroke-width="0.8" shape-rendering="crispEdges"/>
<line x1="425.40" y1="527.55" x2="427.00" y2="527.55" stroke="#000" stroke-width="0.8" shape-rendering="crispEdges"/>
<line x1="425.40" y1="525.71" x2="427.00" y2="525.71" stroke="#000" stroke-width="0.8" shape-rendering="crispEdges"/>
<line x1="425.40" y1="523.88" x2="427.00" y2="523.88" stroke="#000" stroke-width="0.8" shape-rendering="crispEdges"/>
<line x1="425.40" y1="522.04" x2="427.00" y2="522.04" stroke="#000" stroke-width="0.8" shape-rendering="crispEdges"/>
<line x1="424.20" y1="520.20" x2="427.00" y2="520.20" stroke="#000" stroke-width="1.0" shape-rendering="crispEdges"/>
<text x="420.40" y="523.50" font-size="9.3" text-anchor="end">80</text>
<line x1="425.40" y1="518.36" x2="427.00" y2="518.36" stroke="#000" stroke-width="0.8" shape-rendering="crispEdges"/>
<line x1="425.40" y1="516.52" x2="427.00" y2="516.52" stroke="#000" stroke-width="0.8" shape-rendering="crispEdges"/>
<line x1="425.40" y1="514.69" x2="427.00" y2="514.69" stroke="#000" stroke-width="0.8" shape-rendering="crispEdges"/>
<line x1="425.40" y1="512.85" x2="427.00" y2="512.85" stroke="#000" stroke-width="0.8" shape-rendering="crispEdges"/>
<line x1="425.40" y1="511.01" x2="427.00" y2="511.01" stroke="#000" stroke-width="0.8" shape-rendering="crispEdges"/>
<line x1="425.40" y1="509.18" x2="427.00" y2="509.18" stroke="#000" stroke-width="0.8" shape-rendering="crispEdges"/>
<line x1="425.40" y1="507.34" x2="427.00" y2="507.34" stroke="#000" stroke-width="0.8" shape-rendering="crispEdges"/>
<line x1="424.20" y1="505.50" x2="427.00" y2="505.50" stroke="#000" stroke-width="1.0" shape-rendering="crispEdges"/>
<text x="420.40" y="508.80" font-size="9.3" text-anchor="end">100</text>
<line x1="430.90" y1="579.00" x2="430.90" y2="581.80" stroke="#000" stroke-width="1.0" shape-rendering="crispEdges"/>
<line x1="442.40" y1="579.00" x2="442.40" y2="581.80" stroke="#000" stroke-width="1.0" shape-rendering="crispEdges"/>
<line x1="460.70" y1="579.00" x2="460.70" y2="581.80" stroke="#000" stroke-width="1.0" shape-rendering="crispEdges"/>
<line x1="479.00" y1="579.00" x2="479.00" y2="581.80" stroke="#000" stroke-width="1.0" shape-rendering="crispEdges"/>
<line x1="497.30" y1="579.00" x2="497.30" y2="581.80" stroke="#000" stroke-width="1.0" shape-rendering="crispEdges"/>
<line x1="433.79" y1="579.00" x2="433.79" y2="580.70" stroke="#000" stroke-width="0.8" shape-rendering="crispEdges"/>
<line x1="435.28" y1="579.00" x2="435.28" y2="580.70" stroke="#000" stroke-width="0.8" shape-rendering="crispEdges"/>
<line x1="436.48" y1="579.00" x2="436.48" y2="580.70" stroke="#000" stroke-width="0.8" shape-rendering="crispEdges"/>
<line x1="437.54" y1="579.00" x2="437.54" y2="580.70" stroke="#000" stroke-width="0.8" shape-rendering="crispEdges"/>
<line x1="438.49" y1="579.00" x2="438.49" y2="580.70" stroke="#000" stroke-width="0.8" shape-rendering="crispEdges"/>
<line x1="439.36" y1="579.00" x2="439.36" y2="580.70" stroke="#000" stroke-width="0.8" shape-rendering="crispEdges"/>
<line x1="440.18" y1="579.00" x2="440.18" y2="580.70" stroke="#000" stroke-width="0.8" shape-rendering="crispEdges"/>
<line x1="440.96" y1="579.00" x2="440.96" y2="580.70" stroke="#000" stroke-width="0.8" shape-rendering="crispEdges"/>
<line x1="441.70" y1="579.00" x2="441.70" y2="580.70" stroke="#000" stroke-width="0.8" shape-rendering="crispEdges"/>
<line x1="447.91" y1="579.00" x2="447.91" y2="580.70" stroke="#000" stroke-width="0.8" shape-rendering="crispEdges"/>
<line x1="451.13" y1="579.00" x2="451.13" y2="580.70" stroke="#000" stroke-width="0.8" shape-rendering="crispEdges"/>
<line x1="453.42" y1="579.00" x2="453.42" y2="580.70" stroke="#000" stroke-width="0.8" shape-rendering="crispEdges"/>
<line x1="455.19" y1="579.00" x2="455.19" y2="580.70" stroke="#000" stroke-width="0.8" shape-rendering="crispEdges"/>
<line x1="456.64" y1="579.00" x2="456.64" y2="580.70" stroke="#000" stroke-width="0.8" shape-rendering="crispEdges"/>
<line x1="457.87" y1="579.00" x2="457.87" y2="580.70" stroke="#000" stroke-width="0.8" shape-rendering="crispEdges"/>
<line x1="458.93" y1="579.00" x2="458.93" y2="580.70" stroke="#000" stroke-width="0.8" shape-rendering="crispEdges"/>
<line x1="459.86" y1="579.00" x2="459.86" y2="580.70" stroke="#000" stroke-width="0.8" shape-rendering="crispEdges"/>
<line x1="466.21" y1="579.00" x2="466.21" y2="580.70" stroke="#000" stroke-width="0.8" shape-rendering="crispEdges"/>
<line x1="469.43" y1="579.00" x2="469.43" y2="580.70" stroke="#000" stroke-width="0.8" shape-rendering="crispEdges"/>
<line x1="471.72" y1="579.00" x2="471.72" y2="580.70" stroke="#000" stroke-width="0.8" shape-rendering="crispEdges"/>
<line x1="473.49" y1="579.00" x2="473.49" y2="580.70" stroke="#000" stroke-width="0.8" shape-rendering="crispEdges"/>
<line x1="474.94" y1="579.00" x2="474.94" y2="580.70" stroke="#000" stroke-width="0.8" shape-rendering="crispEdges"/>
<line x1="476.17" y1="579.00" x2="476.17" y2="580.70" stroke="#000" stroke-width="0.8" shape-rendering="crispEdges"/>
<line x1="477.23" y1="579.00" x2="477.23" y2="580.70" stroke="#000" stroke-width="0.8" shape-rendering="crispEdges"/>
<line x1="478.16" y1="579.00" x2="478.16" y2="580.70" stroke="#000" stroke-width="0.8" shape-rendering="crispEdges"/>
<line x1="484.51" y1="579.00" x2="484.51" y2="580.70" stroke="#000" stroke-width="0.8" shape-rendering="crispEdges"/>
<line x1="487.73" y1="579.00" x2="487.73" y2="580.70" stroke="#000" stroke-width="0.8" shape-rendering="crispEdges"/>
<line x1="490.02" y1="579.00" x2="490.02" y2="580.70" stroke="#000" stroke-width="0.8" shape-rendering="crispEdges"/>
<line x1="491.79" y1="579.00" x2="491.79" y2="580.70" stroke="#000" stroke-width="0.8" shape-rendering="crispEdges"/>
<line x1="493.24" y1="579.00" x2="493.24" y2="580.70" stroke="#000" stroke-width="0.8" shape-rendering="crispEdges"/>
<line x1="494.47" y1="579.00" x2="494.47" y2="580.70" stroke="#000" stroke-width="0.8" shape-rendering="crispEdges"/>
<line x1="495.53" y1="579.00" x2="495.53" y2="580.70" stroke="#000" stroke-width="0.8" shape-rendering="crispEdges"/>
<line x1="496.46" y1="579.00" x2="496.46" y2="580.70" stroke="#000" stroke-width="0.8" shape-rendering="crispEdges"/>
<line x1="429.15" y1="579.00" x2="429.15" y2="580.70" stroke="#000" stroke-width="0.8" shape-rendering="crispEdges"/>
<line x1="428.67" y1="579.00" x2="428.67" y2="580.70" stroke="#000" stroke-width="0.8" shape-rendering="crispEdges"/>
<line x1="428.25" y1="579.00" x2="428.25" y2="580.70" stroke="#000" stroke-width="0.8" shape-rendering="crispEdges"/>
<line x1="427.87" y1="579.00" x2="427.87" y2="580.70" stroke="#000" stroke-width="0.8" shape-rendering="crispEdges"/>
<line x1="427.51" y1="579.00" x2="427.51" y2="580.70" stroke="#000" stroke-width="0.8" shape-rendering="crispEdges"/>
<rect x="427.00" y="500.80" width="77.70" height="78.20" fill="none" stroke="#000" stroke-width="1.6"/>
<text x="430.90" y="593.30" font-size="9.0" text-anchor="middle">0</text>
<text x="443.20" y="593.30" font-size="9.0" text-anchor="middle"><tspan dy="0.00" font-size="9.00">10</tspan><tspan dy="-3.30" font-size="6.40">2</tspan></text>
<text x="461.50" y="593.30" font-size="9.0" text-anchor="middle"><tspan dy="0.00" font-size="9.00">10</tspan><tspan dy="-3.30" font-size="6.40">3</tspan></text>
<text x="479.80" y="593.30" font-size="9.0" text-anchor="middle"><tspan dy="0.00" font-size="9.00">10</tspan><tspan dy="-3.30" font-size="6.40">4</tspan></text>
<text x="498.10" y="593.30" font-size="9.0" text-anchor="middle"><tspan dy="0.00" font-size="9.00">10</tspan><tspan dy="-3.30" font-size="6.40">5</tspan></text>
<text x="466.10" y="606.60" font-size="11.0" text-anchor="middle" stroke="#000" stroke-width="0.15" textLength="30.00" lengthAdjust="spacingAndGlyphs">p-NF-κB</text>
<text x="185.90" y="577.90" font-size="10.8" text-anchor="start" transform="rotate(-90 185.90 577.90)" textLength="43.60" lengthAdjust="spacingAndGlyphs">% of Max</text>
<line x1="182.60" y1="528.30" x2="182.60" y2="509.50" stroke="#000" stroke-width="1.0" shape-rendering="crispEdges"/>
<path d="M182.6,504.3 L180.8,510.8 L184.4,510.8 Z" fill="#000"/>
<text x="219.90" y="620.20" font-size="9.5" text-anchor="start" textLength="93.80" lengthAdjust="spacingAndGlyphs">Fluorescence intensity</text>
<line x1="340.00" y1="617.00" x2="482.00" y2="617.00" stroke="#000" stroke-width="1.0" shape-rendering="crispEdges"/>
<path d="M488.0,617.0 L481.0,615.2 L481.0,618.8 Z" fill="#000"/>
<line x1="310.50" y1="631.50" x2="333.80" y2="631.50" stroke="#1a4f8e" stroke-width="1.5"/>
<line x1="310.50" y1="640.40" x2="333.80" y2="640.40" stroke="#33b34a" stroke-width="1.5"/>
<line x1="310.50" y1="650.80" x2="333.80" y2="650.80" stroke="#d0143c" stroke-width="1.5"/>
<text x="338.00" y="634.30" font-size="9.0" text-anchor="start" transform="translate(338.00 634.30) rotate(0) skewX(-12) translate(-338.00 -634.30)" textLength="54.00" lengthAdjust="spacingAndGlyphs">Isotype control</text>
<text x="338.00" y="643.60" font-size="9.0" text-anchor="start" transform="translate(338.00 643.60) rotate(0) skewX(-12) translate(-338.00 -643.60)" textLength="72.50" lengthAdjust="spacingAndGlyphs"><tspan dy="0.00" font-size="9.00">Ptpn11</tspan><tspan dy="-2.70" font-size="5.20">+/+</tspan><tspan dy="2.70" font-size="9.00">LysM-Cre</tspan><tspan dy="-2.70" font-size="5.20">+</tspan></text>
<text x="338.00" y="653.80" font-size="9.0" text-anchor="start" transform="translate(338.00 653.80) rotate(0) skewX(-12) translate(-338.00 -653.80)" textLength="80.00" lengthAdjust="spacingAndGlyphs"><tspan dy="0.00" font-size="9.00">Ptpn11</tspan><tspan dy="-2.70" font-size="5.20">E76K/+</tspan><tspan dy="2.70" font-size="9.00">LysM-Cre</tspan><tspan dy="-2.70" font-size="5.20">+</tspan></text>
<rect x="1" y="1" width="517" height="1" fill="#8c8c8c"/>
<rect x="1" y="1" width="1" height="662" fill="#8c8c8c"/>
<rect x="1" y="662" width="517" height="1" fill="#8c8c8c"/>
<rect x="517" y="1" width="1" height="662" fill="#b0b0b0"/>
<rect x="0.5" y="0.5" width="518" height="663" fill="none" stroke="#000" stroke-width="1"/>
</svg>
</body></html>
